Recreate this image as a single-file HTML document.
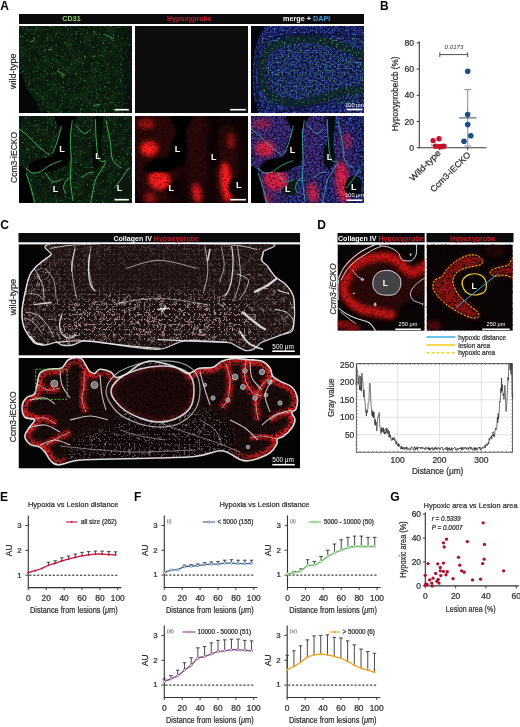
<!DOCTYPE html>
<html><head><meta charset="utf-8"><style>
html,body{margin:0;padding:0;background:#fff;width:520px;height:727px;overflow:hidden}
svg{display:block}
text{font-family:'Liberation Sans', Arial, sans-serif}
.c{stroke:#2a2a2a;stroke-width:0.24px}
</style></head><body>
<svg width="520" height="727" viewBox="0 0 520 727">
<defs><clipPath id="clA11t"><path d="M19.0,26.0 C37.8,18.8 113.2,11.5 132.0,26.0 C150.9,40.5 145.8,98.5 132.0,113.0 C118.3,127.4 65.4,114.8 49.4,113.0 C33.5,111.1 40.0,106.1 36.4,102.1 C32.8,98.1 30.2,93.8 27.7,89.0 C25.2,84.3 22.6,77.1 21.2,73.8 C19.7,70.6 19.4,77.4 19.0,69.5 C18.6,61.5 0.2,33.2 19.0,26.0Z"/></clipPath><filter id="spG1" x="0" y="0" width="1" height="1" color-interpolation-filters="sRGB"><feTurbulence type="fractalNoise" baseFrequency="0.45" numOctaves="2" seed="3"/><feColorMatrix type="matrix" values="0 0 0 0 0.2 0 0 0 0 0.52 0 0 0 0 0.25 4 0 0 0 -2.45"/><feGaussianBlur stdDeviation="0.6"/></filter><filter id="spG2" x="0" y="0" width="1" height="1" color-interpolation-filters="sRGB"><feTurbulence type="fractalNoise" baseFrequency="0.45" numOctaves="2" seed="5"/><feColorMatrix type="matrix" values="0 0 0 0 0.2 0 0 0 0 0.52 0 0 0 0 0.25 4 0 0 0 -2.45"/><feGaussianBlur stdDeviation="0.6"/></filter><filter id="spGd" x="0" y="0" width="1" height="1" color-interpolation-filters="sRGB"><feTurbulence type="fractalNoise" baseFrequency="0.5" numOctaves="2" seed="9"/><feColorMatrix type="matrix" values="0 0 0 0 0.2 0 0 0 0 0.5 0 0 0 0 0.3 5 0 0 0 -2.8"/><feGaussianBlur stdDeviation="0.6"/></filter><filter id="spBd" x="0" y="0" width="1" height="1" color-interpolation-filters="sRGB"><feTurbulence type="fractalNoise" baseFrequency="0.5" numOctaves="2" seed="4"/><feColorMatrix type="matrix" values="0 0 0 0 0.03 0 0 0 0 0.04 0 0 0 0 0.18 5 0 0 0 -2.0"/><feGaussianBlur stdDeviation="0.5"/></filter><filter id="spBl" x="0" y="0" width="1" height="1" color-interpolation-filters="sRGB"><feTurbulence type="fractalNoise" baseFrequency="0.5" numOctaves="2" seed="11"/><feColorMatrix type="matrix" values="0 0 0 0 0.35 0 0 0 0 0.45 0 0 0 0 0.9 5 0 0 0 -3.0"/><feGaussianBlur stdDeviation="0.5"/></filter><filter id="spRd" x="0" y="0" width="1" height="1" color-interpolation-filters="sRGB"><feTurbulence type="fractalNoise" baseFrequency="0.45" numOctaves="2" seed="6"/><feColorMatrix type="matrix" values="0 0 0 0 0.05 0 0 0 0 0.0 0 0 0 0 0.02 5 0 0 0 -2.4"/><feGaussianBlur stdDeviation="0.5"/></filter><filter id="mottle" x="0" y="0" width="1" height="1" color-interpolation-filters="sRGB"><feTurbulence type="fractalNoise" baseFrequency="0.12" numOctaves="2" seed="21"/><feColorMatrix type="matrix" values="0 0 0 0 0.1 0 0 0 0 0.3 0 0 0 0 0.14 3 0 0 0 -1.2"/></filter><filter id="bl2" x="-50%" y="-50%" width="200%" height="200%"><feGaussianBlur stdDeviation="2.2"/></filter><filter id="bl06" x="-50%" y="-50%" width="200%" height="200%"><feGaussianBlur stdDeviation="0.6"/></filter><filter id="bl4" x="-50%" y="-50%" width="200%" height="200%"><feGaussianBlur stdDeviation="4"/></filter><clipPath id="clC1"><path d="M63.1,242.6 C28.3,244.7 54.9,251.3 50.8,254.9 C46.7,258.6 41.9,261.3 38.5,264.5 C35.1,267.7 32.3,270.2 30.3,274.0 C28.2,277.9 27.6,281.8 26.2,287.7 C24.8,293.6 22.6,303.2 22.1,309.5 C21.6,315.9 22.1,321.1 23.5,325.9 C24.8,330.7 28.2,335.3 30.3,338.2 C32.3,341.2 33.2,342.5 35.7,343.7 C38.3,344.8 41.9,345.3 45.3,345.0 C48.7,344.8 53.5,342.3 56.2,342.3 C59.0,342.3 59.0,344.6 61.7,345.0 C64.4,345.5 69.0,345.7 72.6,345.0 C76.3,344.4 79.0,341.4 83.5,340.9 C88.1,340.5 92.6,341.4 99.9,342.3 C107.2,343.2 117.2,345.3 127.2,346.4 C137.2,347.5 150.3,350.0 160.0,349.1 C169.7,348.2 174.3,342.1 185.3,340.9 C196.4,339.8 218.1,341.6 226.3,342.3 C234.5,343.0 231.3,343.7 234.5,345.0 C237.6,346.4 242.2,349.8 245.4,350.5 C248.6,351.2 250.8,350.5 253.6,349.1 C256.3,347.8 258.6,344.1 261.8,342.3 C265.0,340.5 269.1,339.6 272.7,338.2 C276.3,336.8 280.4,335.3 283.6,334.1 C286.8,333.0 290.1,333.2 291.8,331.4 C293.5,329.6 293.5,326.8 294.0,323.2 C294.4,319.6 294.7,314.1 294.5,309.5 C294.4,305.0 294.5,300.0 293.2,295.9 C291.8,291.8 289.3,288.1 286.3,285.0 C283.4,281.8 278.6,280.0 275.4,276.8 C272.2,273.6 269.5,268.6 267.2,265.8 C265.0,263.1 262.5,262.7 261.8,260.4 C261.1,258.1 263.6,255.2 263.1,252.2 C262.7,249.2 292.4,244.2 259.0,242.6 C225.7,241.0 97.8,240.6 63.1,242.6Z"/></clipPath><mask id="mC1" maskUnits="userSpaceOnUse" x="18" y="244" width="282" height="112"><rect x="18" y="244" width="282" height="112" fill="#5a5a5a"/><path d="M55,302 Q100,292 150,296 Q200,292 250,300 L255,342 L55,342 Z" fill="#fff" filter="url(#bl6)"/><ellipse cx="40" cy="300" rx="20" ry="40" fill="#888" filter="url(#bl6)"/><ellipse cx="275" cy="305" rx="18" ry="30" fill="#666" filter="url(#bl6)"/><ellipse cx="150" cy="275" rx="60" ry="14" fill="#333" filter="url(#bl6)"/></mask><clipPath id="clC2"><path d="M59.0,464.9 C54.1,465.0 53.1,462.9 50.8,460.8 C48.5,458.8 47.1,454.9 45.3,452.6 C43.5,450.3 42.3,448.5 39.8,447.1 C37.3,445.7 32.8,446.2 30.3,444.4 C27.8,442.6 25.0,438.9 24.8,436.2 C24.6,433.5 27.3,430.7 28.9,428.0 C30.5,425.3 35.1,421.6 34.4,419.8 C33.7,418.0 26.9,419.4 24.8,417.1 C22.8,414.8 21.9,409.4 22.1,406.2 C22.3,403.0 24.1,400.1 26.2,398.0 C28.2,395.9 32.6,396.2 34.4,393.9 C36.2,391.6 36.2,387.7 37.1,384.3 C38.0,380.9 38.0,375.9 39.8,373.4 C41.6,370.9 44.4,370.2 48.0,369.3 C51.6,368.4 58.3,369.5 61.7,367.9 C65.1,366.3 65.3,361.3 68.5,359.7 C71.7,358.1 77.4,356.6 80.8,358.4 C84.2,360.2 86.7,368.2 89.0,370.7 C91.3,373.2 92.7,373.6 94.5,373.4 C96.3,373.2 97.2,369.5 99.9,369.3 C102.6,369.1 108.1,370.6 110.8,372.0 C113.5,373.4 113.6,377.3 116.3,377.5 C119.0,377.7 123.6,375.4 127.2,373.4 C130.8,371.3 134.5,367.2 138.2,365.2 C141.8,363.1 145.5,361.6 149.1,361.1 C152.7,360.7 155.8,361.6 160.0,362.5 C164.2,363.4 169.7,364.7 174.4,366.5 C179.1,368.3 183.9,373.1 188.0,373.4 C192.1,373.7 194.9,369.3 199.0,368.3 C203.1,367.3 208.7,368.5 212.6,367.3 C216.5,366.1 218.5,362.6 222.2,361.1 C225.8,359.6 230.2,358.6 234.5,358.4 C238.8,358.2 243.5,359.2 248.1,359.7 C252.7,360.1 258.2,359.7 261.8,361.1 C265.4,362.5 268.2,365.4 270.0,367.9 C271.8,370.4 270.9,373.8 272.7,376.1 C274.5,378.4 277.7,379.8 280.9,381.6 C284.1,383.4 289.1,384.3 291.8,387.0 C294.5,389.7 296.6,394.3 297.3,398.0 C298.0,401.7 296.9,406.6 296.0,409.0 C295.1,411.4 292.0,410.8 291.8,412.6 C291.6,414.4 295.0,417.2 295.0,419.8 C295.0,422.4 293.7,425.3 291.8,428.0 C289.9,430.7 286.0,434.4 283.6,436.2 C281.2,438.0 278.5,437.5 277.4,438.9 C276.2,440.3 277.9,442.1 276.7,444.4 C275.5,446.7 273.1,450.3 270.2,452.6 C267.3,454.9 263.0,456.6 259.3,458.0 C255.6,459.4 251.3,460.6 248.1,460.8 C244.9,461.0 244.3,461.1 239.9,459.4 C235.5,457.7 229.1,451.3 221.5,450.8 C213.9,450.3 208.7,455.2 194.6,456.5 C180.5,457.8 156.1,457.9 137.0,458.5 C117.9,459.1 93.0,458.9 80.0,460.0 C67.0,461.1 63.9,464.8 59.0,464.9Z"/></clipPath><clipPath id="clOval"><path d="M111.0,392.0 C110.7,387.0 115.2,381.8 120.0,378.0 C124.8,374.2 133.3,371.0 140.0,369.0 C146.7,367.0 153.7,366.2 160.0,366.0 C166.3,365.8 173.0,366.5 178.0,368.0 C183.0,369.5 187.3,371.3 190.0,375.0 C192.7,378.7 194.0,384.5 194.0,390.0 C194.0,395.5 193.2,403.2 190.0,408.0 C186.8,412.8 180.3,416.7 175.0,419.0 C169.7,421.3 163.8,422.2 158.0,422.0 C152.2,421.8 146.0,420.3 140.0,418.0 C134.0,415.7 126.8,412.3 122.0,408.0 C117.2,403.7 111.3,397.0 111.0,392.0Z"/></clipPath><mask id="mFol" maskUnits="userSpaceOnUse" x="18" y="355" width="284" height="116"><rect x="18" y="355" width="284" height="116" fill="#000"/><path d="M22.0,405.0 C23.3,398.7 27.0,397.5 30.0,392.0 C33.0,386.5 34.7,376.3 40.0,372.0 C45.3,367.7 55.3,368.3 62.0,366.0 C68.7,363.7 75.0,357.0 80.0,358.0 C85.0,359.0 86.7,369.7 92.0,372.0 C97.3,374.3 108.7,368.7 112.0,372.0 C115.3,375.3 111.0,384.0 112.0,392.0 C113.0,400.0 121.7,413.3 118.0,420.0 C114.3,426.7 98.0,427.8 90.0,432.0 C82.0,436.2 75.0,439.5 70.0,445.0 C65.0,450.5 65.0,463.8 60.0,465.0 C55.0,466.2 46.3,457.8 40.0,452.0 C33.7,446.2 25.0,437.8 22.0,430.0 C19.0,422.2 20.7,411.3 22.0,405.0Z" fill="#fff" filter="url(#bl3)"/><path d="M188.0,371.0 C193.0,363.5 209.7,361.8 222.0,360.0 C234.3,358.2 250.7,355.7 262.0,360.0 C273.3,364.3 284.0,379.3 290.0,386.0 C296.0,392.7 297.3,392.7 298.0,400.0 C298.7,407.3 298.3,421.7 294.0,430.0 C289.7,438.3 278.5,445.0 272.0,450.0 C265.5,455.0 261.0,459.7 255.0,460.0 C249.0,460.3 239.8,457.0 236.0,452.0 C232.2,447.0 236.0,436.7 232.0,430.0 C228.0,423.3 218.7,416.2 212.0,412.0 C205.3,407.8 196.0,411.8 192.0,405.0 C188.0,398.2 183.0,378.5 188.0,371.0Z" fill="#fff" filter="url(#bl3)"/></mask><filter id="bl3" x="-50%" y="-50%" width="200%" height="200%"><feGaussianBlur stdDeviation="3"/></filter><filter id="bl1" x="-50%" y="-50%" width="200%" height="200%"><feGaussianBlur stdDeviation="1"/></filter><filter id="spW" x="0" y="0" width="1" height="1" color-interpolation-filters="sRGB"><feTurbulence type="fractalNoise" baseFrequency="0.6" numOctaves="2" seed="13"/><feColorMatrix type="matrix" values="0 0 0 0 0.95 0 0 0 0 0.85 0 0 0 0 0.85 6 0 0 0 -4.3"/><feGaussianBlur stdDeviation="0.3"/></filter><filter id="netW" x="0" y="0" width="1" height="1" color-interpolation-filters="sRGB"><feTurbulence type="fractalNoise" baseFrequency="0.2" numOctaves="2" seed="5"/><feColorMatrix type="matrix" values="0 0 0 0 0.9 0 0 0 0 0.78 0 0 0 0 0.78 1 0 0 0 0"/><feComponentTransfer><feFuncA type="table" tableValues="0 0 0 0 0 0 0 0 0 0 0 0.75 0 0 0 0 0 0 0 0 0 0 0"/></feComponentTransfer><feGaussianBlur stdDeviation="0.2"/></filter><filter id="netW2" x="0" y="0" width="1" height="1" color-interpolation-filters="sRGB"><feTurbulence type="fractalNoise" baseFrequency="0.2" numOctaves="2" seed="8"/><feColorMatrix type="matrix" values="0 0 0 0 0.75 0 0 0 0 0.7 0 0 0 0 0.7 1 0 0 0 0"/><feComponentTransfer><feFuncA type="table" tableValues="0 0 0 0 0 0 0 0 0 0 0 0 0.55 0 0 0 0 0 0 0 0 0 0 0 0"/></feComponentTransfer><feGaussianBlur stdDeviation="0.2"/></filter><filter id="bl6" x="-50%" y="-50%" width="200%" height="200%"><feGaussianBlur stdDeviation="6"/></filter><filter id="bl15" x="-50%" y="-50%" width="200%" height="200%"><feGaussianBlur stdDeviation="1.5"/></filter><filter id="bl2" x="-50%" y="-50%" width="200%" height="200%"><feGaussianBlur stdDeviation="2.2"/></filter></defs>
<rect width="520" height="727" fill="#fff"/>
<text x="0.3" y="10.3" font-size="12" font-weight="bold" fill="#000">A</text>
<text x="379.9" y="10.4" font-size="12" font-weight="bold" fill="#000">B</text>
<text x="0.2" y="228.6" font-size="12" font-weight="bold" fill="#000">C</text>
<text x="317.3" y="228.6" font-size="12" font-weight="bold" fill="#000">D</text>
<text x="0.1" y="500.7" font-size="12" font-weight="bold" fill="#000">E</text>
<text x="134.1" y="500.7" font-size="12" font-weight="bold" fill="#000">F</text>
<text x="390.2" y="500.7" font-size="12" font-weight="bold" fill="#000">G</text>
<rect x="19" y="14" width="345" height="10" fill="#0b0b0d"/>
<text x="71.45" y="21.1" font-size="6.8" fill="#8ccf6a" text-anchor="middle" textLength="18.4" lengthAdjust="spacingAndGlyphs" font-weight="bold">CD31</text>
<text x="189.4" y="21.1" font-size="6.8" fill="#c41a2c" text-anchor="middle" textLength="44.6" lengthAdjust="spacingAndGlyphs" font-weight="bold">Hypoxyprobe</text>
<text x="306.7" y="21.1" font-size="6.8" fill="#fff" text-anchor="middle" textLength="47.2" lengthAdjust="spacingAndGlyphs" font-weight="bold">merge + <tspan fill="#3c9fd8">DAPI</tspan></text>
<text transform="translate(16.1,71.3) rotate(-90)" font-size="8.6" fill="#333" text-anchor="middle" textLength="35.6" lengthAdjust="spacingAndGlyphs" class="c">wild-type</text>
<text transform="translate(16.6,157.4) rotate(-90)" font-size="8.6" fill="#333" text-anchor="middle" textLength="51.2" lengthAdjust="spacingAndGlyphs" class="c">Ccm3-iECKO</text>
<rect x="18.5" y="233" width="281.5" height="9.3" fill="#0b0b0d"/>
<text x="156.2" y="240.6" font-size="7.3" fill="#fff" text-anchor="middle" textLength="85.6" lengthAdjust="spacingAndGlyphs" font-weight="bold">Collagen IV <tspan fill="#c41a2c">Hypoxyprobe</tspan></text>
<text transform="translate(15.9,297) rotate(-90)" font-size="8.6" fill="#333" text-anchor="middle" textLength="36.4" lengthAdjust="spacingAndGlyphs" class="c">wild-type</text>
<text transform="translate(15.9,416.8) rotate(-90)" font-size="8.6" fill="#333" text-anchor="middle" textLength="50.9" lengthAdjust="spacingAndGlyphs" class="c">Ccm3-iECKO</text>
<rect x="337.5" y="233" width="87.2" height="9.3" fill="#0b0b0d"/>
<rect x="426.5" y="233" width="87" height="9.3" fill="#0b0b0d"/>
<text x="380.8" y="240.6" font-size="7.3" fill="#fff" text-anchor="middle" textLength="85.6" lengthAdjust="spacingAndGlyphs" font-weight="bold">Collagen IV <tspan fill="#c41a2c">Hypoxyprobe</tspan></text>
<text x="472.7" y="240.6" font-size="7.3" fill="#c41a2c" text-anchor="middle" textLength="45.4" lengthAdjust="spacingAndGlyphs" font-weight="bold">Hypoxyprobe</text>
<text transform="translate(336.2,289) rotate(-90)" font-size="8.8" fill="#333" text-anchor="middle" textLength="51.4" lengthAdjust="spacingAndGlyphs" font-style="italic" class="c">Ccm3-iECKO</text>
<line x1="426.5" y1="337" x2="455.4" y2="337" stroke="#3fb6e8" stroke-width="1.6"/>
<line x1="426.5" y1="345" x2="455.4" y2="345" stroke="#f2d024" stroke-width="1.6"/>
<line x1="426.5" y1="352.7" x2="455.4" y2="352.7" stroke="#f2d024" stroke-width="1.4" stroke-dasharray="3,2"/>
<text x="458.2" y="339.6" font-size="7" fill="#333" textLength="47.8" lengthAdjust="spacingAndGlyphs" class="c">hypoxic distance</text>
<text x="458.2" y="347.5" font-size="7" fill="#333" textLength="32" lengthAdjust="spacingAndGlyphs" class="c">lesion area</text>
<text x="458.2" y="355.2" font-size="7" fill="#333" textLength="37" lengthAdjust="spacingAndGlyphs" class="c">hypoxic area</text>
<clipPath id="cA11"><rect x="19" y="26" width="113" height="87"/></clipPath><g clip-path="url(#cA11)"><rect x="19" y="26" width="113" height="87" fill="#050705"/><path d="M19.0,26.0 C37.8,18.8 113.2,11.5 132.0,26.0 C150.9,40.5 145.8,98.5 132.0,113.0 C118.3,127.4 65.4,114.8 49.4,113.0 C33.5,111.1 40.0,106.1 36.4,102.1 C32.8,98.1 30.2,93.8 27.7,89.0 C25.2,84.3 22.6,77.1 21.2,73.8 C19.7,70.6 19.4,77.4 19.0,69.5 C18.6,61.5 0.2,33.2 19.0,26.0Z" fill="#0a190c"/><rect x="19" y="26" width="113" height="87" filter="url(#mottle)" clip-path="url(#clA11t)" opacity="0.3"/><rect x="19" y="26" width="113" height="87" filter="url(#spG1)" clip-path="url(#clA11t)"/><rect x="123" y="26" width="9" height="87" fill="#050805" opacity="0.4"/><line x1="57" y1="71" x2="65" y2="75" stroke="#3fb858" stroke-width="1" opacity="0.8"/><line x1="104" y1="34" x2="114" y2="39" stroke="#3fb858" stroke-width="1" opacity="0.8"/><line x1="62" y1="74" x2="63" y2="78" stroke="#3fb858" stroke-width="1" opacity="0.8"/><line x1="93" y1="106" x2="100" y2="104" stroke="#3fb858" stroke-width="1" opacity="0.8"/><line x1="30" y1="42" x2="34" y2="40" stroke="#3fb858" stroke-width="1" opacity="0.8"/><line x1="48" y1="50" x2="52" y2="49" stroke="#3fb858" stroke-width="1" opacity="0.8"/><rect x="114.6" y="108.9" width="14.200000000000017" height="1.6" fill="#fff"/></g>
<clipPath id="cA12"><rect x="135" y="26" width="113" height="87"/></clipPath><g clip-path="url(#cA12)"><rect x="135" y="26" width="113" height="87" fill="#0e0d0e"/><rect x="230.2" y="108.9" width="15.700000000000017" height="1.6" fill="#fff"/></g>
<clipPath id="cA13"><rect x="251" y="26" width="113" height="87"/></clipPath><g clip-path="url(#cA13)"><rect x="251" y="26" width="113" height="87" fill="#283688"/><rect x="251" y="26" width="113" height="87" filter="url(#spBd)"/><rect x="251" y="26" width="113" height="87" filter="url(#spBl)"/><path d="M368.4,58.6 C364.4,56.8 353.2,50.9 344.5,47.7 C335.8,44.6 325.6,40.6 316.2,39.5 C306.8,38.3 295.7,39.1 288.0,40.8 C280.2,42.4 273.8,45.7 269.5,49.5 C265.2,53.2 263.3,57.5 262.3,63.4 C261.3,69.3 261.2,78.8 263.4,84.7 C265.6,90.6 269.4,95.7 275.3,98.8 C281.3,101.9 290.2,103.5 298.8,103.2 C307.4,102.8 319.1,98.7 327.1,96.7 C335.1,94.6 339.8,92.1 346.7,90.8 C353.5,89.5 364.8,89.3 368.4,89.0" stroke="#0c2226" stroke-width="8" fill="none" opacity="0.85" filter="url(#bl06)"/><path d="M368.4,58.6 C364.4,56.8 353.2,50.9 344.5,47.7 C335.8,44.6 325.6,40.6 316.2,39.5 C306.8,38.3 295.7,39.1 288.0,40.8 C280.2,42.4 273.8,45.7 269.5,49.5 C265.2,53.2 263.3,57.5 262.3,63.4 C261.3,69.3 261.2,78.8 263.4,84.7 C265.6,90.6 269.4,95.7 275.3,98.8 C281.3,101.9 290.2,103.5 298.8,103.2 C307.4,102.8 319.1,98.7 327.1,96.7 C335.1,94.6 339.8,92.1 346.7,90.8 C353.5,89.5 364.8,89.3 368.4,89.0" stroke="#000" stroke-width="7" fill="none" filter="url(#spGd)"/><path d="M368.4,38.0 C363.3,37.5 348.5,35.7 338.0,35.1 C327.4,34.5 315.5,34.0 305.3,34.3 C295.2,34.6 284.5,34.6 277.1,36.9 C269.7,39.1 264.4,42.3 260.8,47.7 C257.2,53.2 256.1,61.5 255.3,69.5 C254.6,77.4 255.0,88.3 256.4,95.6 C257.9,102.8 262.8,110.1 264.0,113.0" stroke="#0a0f2a" stroke-width="1.6" fill="none" opacity="0.7"/><path d="M277.1,113.0 C281.8,112.1 295.9,109.4 305.3,107.5 C314.8,105.6 323.1,103.3 333.6,101.7 C344.1,100.0 362.6,98.4 368.4,97.7" stroke="#0a0f2a" stroke-width="1.6" fill="none" opacity="0.7"/><path d="M251.0,26.0 C253.2,11.5 262.8,23.8 264.0,26.0 C265.3,28.2 260.3,34.3 258.6,39.0 C256.9,43.8 255.0,48.5 254.0,54.3 C253.1,60.1 252.8,66.9 252.7,73.8 C252.7,80.7 252.6,89.0 253.6,95.6 C254.6,102.1 259.0,110.1 258.6,113.0 C258.2,115.9 252.3,127.4 251.0,113.0 C249.7,98.5 248.8,40.5 251.0,26.0Z" fill="#04050a"/><rect x="346.5" y="108.7" width="15.899999999999977" height="1.6" fill="#fff"/><text x="354.6" y="106.6" font-size="5.6" fill="#fff" text-anchor="middle">100 μm</text></g>
<clipPath id="cA21"><rect x="19" y="116" width="113" height="87"/></clipPath><g clip-path="url(#cA21)"><rect x="19" y="116" width="113" height="87" fill="#0a170c"/><rect x="19" y="116" width="113" height="87" filter="url(#mottle)" opacity="0.3"/><rect x="19" y="116" width="113" height="87" filter="url(#spG2)"/><path d="M54.9,116.0 C58.0,114.7 72.9,114.7 76.0,116.0 C79.0,117.3 74.4,121.1 73.3,123.6 C72.3,126.1 69.9,128.5 69.4,131.2 C68.9,133.9 70.1,136.7 70.3,139.9 C70.5,143.2 71.0,147.0 70.7,150.8 C70.4,154.6 69.9,160.0 68.6,162.7 C67.2,165.5 64.6,165.8 62.5,167.1 C60.4,168.4 58.1,169.5 56.0,170.3 C53.8,171.2 52.3,171.8 49.4,172.1 C46.5,172.4 41.6,172.2 38.6,172.1 C35.5,172.0 32.8,172.1 31.0,171.4 C29.1,170.8 27.5,169.6 27.7,168.2 C27.9,166.7 29.9,164.4 32.0,162.7 C34.2,161.1 37.8,159.4 40.7,158.4 C43.6,157.4 47.3,158.0 49.4,156.9 C51.5,155.8 52.3,154.3 53.3,151.9 C54.4,149.4 54.4,145.2 55.5,142.1 C56.7,139.0 60.1,136.5 60.3,133.4 C60.6,130.3 57.9,126.5 57.0,123.6 C56.1,120.7 51.7,117.3 54.9,116.0Z" fill="#030403" filter="url(#bl06)"/><path d="M94.7,116.0 C95.9,113.8 101.7,113.5 102.9,116.0 C104.1,118.5 102.3,126.1 102.0,131.2 C101.8,136.3 101.0,141.7 101.2,146.4 C101.3,151.1 103.1,156.0 102.9,159.5 C102.7,162.9 101.5,166.1 99.9,167.1 C98.2,168.1 94.3,168.3 92.9,165.6 C91.6,162.8 91.5,154.7 91.8,150.8 C92.2,146.9 94.5,145.7 95.1,142.1 C95.7,138.5 95.6,133.4 95.5,129.0 C95.4,124.7 93.4,118.2 94.7,116.0Z" fill="#060c06" filter="url(#bl06)"/><path d="M19.0,168.2 C20.1,162.7 23.9,168.2 25.5,170.3 C27.1,172.5 27.7,177.2 28.6,181.2 C29.5,185.2 30.3,190.6 31.0,194.3 C31.6,197.9 34.5,201.5 32.5,203.0 C30.5,204.4 21.2,208.8 19.0,203.0 C16.8,197.2 17.9,173.6 19.0,168.2Z" fill="#040504" filter="url(#bl06)"/><path d="M114.2,181.2 C115.6,178.7 118.7,176.1 121.2,175.8 C123.6,175.5 127.6,176.6 128.8,179.5 C130.0,182.4 129.9,190.4 128.3,193.2 C126.8,195.9 122.0,196.4 119.4,196.0 C116.9,195.6 113.8,193.5 112.9,191.0 C112.0,188.5 112.8,183.8 114.2,181.2Z" fill="#0a140b" filter="url(#bl06)"/><path d="M56.0,185.1 C57.3,183.4 56.4,180.4 57.7,179.5 C59.0,178.5 62.2,178.4 63.6,179.5 C64.9,180.6 65.9,183.5 65.7,186.0 C65.6,188.5 64.5,192.8 62.5,194.3 C60.5,195.7 56.0,195.4 53.8,194.7 C51.6,194.0 49.1,191.5 49.4,189.9 C49.8,188.3 54.6,186.9 56.0,185.1Z" fill="#0b150c" filter="url(#bl06)"/><path d="M61.4,125.8 C60.8,128.1 59.0,135.7 57.7,139.9 C56.4,144.1 54.8,148.4 53.8,150.8 C52.8,153.1 52.0,153.5 51.6,154.0" stroke="#46c65a" stroke-width="1" fill="none" opacity="0.85"/><path d="M25.5,167.7 C26.7,168.6 29.9,172.3 32.5,173.0 C35.0,173.6 37.7,172.8 40.7,171.4 C43.7,170.1 47.1,166.7 50.5,164.9 C54.0,163.1 59.6,161.3 61.4,160.6" stroke="#46c65a" stroke-width="1" fill="none" opacity="0.85"/><path d="M72.3,120.3 C71.9,123.6 70.5,133.4 70.3,139.9 C70.1,146.4 71.2,153.0 71.2,159.5 C71.2,166.0 70.0,172.2 70.3,179.0 C70.6,185.9 72.5,197.2 72.9,200.8" stroke="#46c65a" stroke-width="1" fill="none" opacity="0.85"/><path d="M95.5,119.3 C95.6,122.7 95.6,133.2 96.2,139.9 C96.8,146.6 97.4,155.8 99.0,159.5 C100.6,163.2 105.4,159.9 105.5,162.1 C105.7,164.3 101.6,169.3 99.9,172.5 C98.1,175.7 96.6,176.1 95.1,181.2 C93.6,186.3 91.5,199.3 90.7,203.0" stroke="#46c65a" stroke-width="1" fill="none" opacity="0.85"/><path d="M128.8,167.7 C127.5,169.6 123.6,175.6 121.2,179.0 C118.7,182.4 115.4,186.7 114.2,188.2" stroke="#46c65a" stroke-width="1" fill="none" opacity="0.85"/><path d="M26.0,173.0 C26.9,175.8 30.2,184.9 31.6,189.9 C33.1,194.9 34.1,200.8 34.7,203.0" stroke="#46c65a" stroke-width="1" fill="none" opacity="0.85"/><path d="M82.0,178.0 C83.1,177.1 86.6,173.9 88.6,173.0 C90.6,172.0 93.1,172.2 94.0,172.1" stroke="#46c65a" stroke-width="1" fill="none" opacity="0.85"/><path d="M71.2,176.9 C70.3,177.6 67.0,179.4 65.7,181.2 C64.5,183.0 63.6,185.6 63.6,187.7 C63.6,189.9 65.4,193.2 65.7,194.3" stroke="#46c65a" stroke-width="1" fill="none" opacity="0.85"/><path d="M45.1,172.5 C46.2,174.0 49.6,179.8 51.6,181.2 C53.6,182.7 55.2,181.6 57.0,181.2 C58.9,180.9 61.6,179.4 62.5,179.0" stroke="#46c65a" stroke-width="1" fill="none" opacity="0.85"/><path d="M106.0,120.3 C106.7,124.0 109.2,135.6 110.3,142.1 C111.4,148.6 110.7,155.1 112.5,159.5 C114.3,163.8 119.7,166.7 121.2,168.2" stroke="#46c65a" stroke-width="1" fill="none" opacity="0.85"/><path d="M19.0,129.0 C20.4,130.1 24.4,132.7 27.7,135.6 C31.0,138.5 34.9,143.2 38.6,146.4 C42.2,149.7 47.6,153.7 49.4,155.1" stroke="#46c65a" stroke-width="1" fill="none" opacity="0.85"/><path d="M75.5,124.7 C77.0,126.1 81.7,132.7 84.2,133.4 C86.8,134.1 89.7,129.8 90.7,129.0" stroke="#46c65a" stroke-width="1" fill="none" opacity="0.85"/><text x="61.9" y="152" font-size="9" font-weight="bold" fill="#fff" text-anchor="middle">L</text><text x="97.9" y="159.2" font-size="9" font-weight="bold" fill="#fff" text-anchor="middle">L</text><text x="55.4" y="191.6" font-size="9" font-weight="bold" fill="#fff" text-anchor="middle">L</text><text x="119.6" y="190.9" font-size="9" font-weight="bold" fill="#fff" text-anchor="middle">L</text><rect x="114.6" y="198.89999999999998" width="14.200000000000017" height="1.6" fill="#fff"/></g>
<clipPath id="cA22"><rect x="135" y="116" width="113" height="87"/></clipPath><g clip-path="url(#cA22)"><rect x="135" y="116" width="113" height="87" fill="#0c0506"/><path d="M135.0,116.0 C142.2,106.9 170.9,106.9 178.5,116.0 C186.1,125.1 182.5,155.9 180.7,170.3 C178.8,184.8 173.8,197.5 167.6,203.0 C161.4,208.4 149.1,208.4 143.7,203.0 C138.3,197.5 136.4,184.8 135.0,170.3 C133.6,155.9 127.8,125.1 135.0,116.0Z" fill="#500a0c" opacity="0.45" filter="url(#bl4)"/><path d="M186.1,116.0 C189.0,101.5 203.7,101.5 206.7,116.0 C209.8,130.5 207.5,188.5 204.6,203.0 C201.7,217.4 192.4,217.4 189.3,203.0 C186.3,188.5 183.2,130.5 186.1,116.0Z" fill="#500a0c" opacity="0.45" filter="url(#bl4)"/><path d="M217.6,133.4 C220.9,121.8 234.3,121.8 237.2,133.4 C240.1,145.0 238.3,191.4 235.0,203.0 C231.7,214.6 220.5,214.6 217.6,203.0 C214.7,191.4 214.3,145.0 217.6,133.4Z" fill="#500a0c" opacity="0.45" filter="url(#bl4)"/><ellipse cx="149.1" cy="148.6" rx="9" ry="7.5" fill="#ff1c1c" opacity="1.0" filter="url(#bl2)" transform="rotate(0,149.1,148.6)"/><ellipse cx="159.5" cy="180" rx="11" ry="10" fill="#ff1c1c" opacity="1.0" filter="url(#bl2)" transform="rotate(20,159.5,180)"/><ellipse cx="226.3" cy="182" rx="6" ry="20" fill="#ff1c1c" opacity="1.0" filter="url(#bl2)" transform="rotate(-6,226.3,182)"/><ellipse cx="197" cy="193" rx="4.5" ry="10" fill="#ff1c1c" opacity="0.9" filter="url(#bl2)" transform="rotate(-10,197,193)"/><ellipse cx="146" cy="124" rx="9" ry="5" fill="#ff1c1c" opacity="0.55" filter="url(#bl2)" transform="rotate(0,146,124)"/><ellipse cx="231" cy="141" rx="4" ry="8" fill="#ff1c1c" opacity="0.5" filter="url(#bl2)" transform="rotate(0,231,141)"/><ellipse cx="150" cy="198" rx="6" ry="6" fill="#ff1c1c" opacity="0.5" filter="url(#bl2)" transform="rotate(0,150,198)"/><rect x="135" y="116" width="113" height="87" filter="url(#spRd)" opacity="0.4"/><path d="M170.9,116.0 C174.0,114.7 188.9,114.7 192.0,116.0 C195.0,117.3 190.4,121.1 189.3,123.6 C188.3,126.1 185.9,128.5 185.4,131.2 C184.9,133.9 186.1,136.7 186.3,139.9 C186.5,143.2 187.0,147.0 186.7,150.8 C186.4,154.6 185.9,160.0 184.6,162.7 C183.2,165.5 180.6,165.8 178.5,167.1 C176.4,168.4 174.1,169.5 172.0,170.3 C169.8,171.2 168.3,171.8 165.4,172.1 C162.5,172.4 157.6,172.2 154.6,172.1 C151.5,172.0 148.8,172.1 147.0,171.4 C145.1,170.8 143.5,169.6 143.7,168.2 C143.9,166.7 145.9,164.4 148.0,162.7 C150.2,161.1 153.8,159.4 156.7,158.4 C159.6,157.4 163.3,158.0 165.4,156.9 C167.5,155.8 168.3,154.3 169.3,151.9 C170.4,149.4 170.4,145.2 171.5,142.1 C172.7,139.0 176.1,136.5 176.3,133.4 C176.6,130.3 173.9,126.5 173.0,123.6 C172.1,120.7 167.7,117.3 170.9,116.0Z" fill="#050303" filter="url(#bl1)"/><path d="M210.7,116.0 C211.9,113.8 217.7,113.5 218.9,116.0 C220.1,118.5 218.3,126.1 218.0,131.2 C217.8,136.3 217.0,141.7 217.2,146.4 C217.3,151.1 219.1,156.0 218.9,159.5 C218.7,162.9 217.5,166.1 215.9,167.1 C214.2,168.1 210.3,168.3 208.9,165.6 C207.6,162.8 207.5,154.7 207.8,150.8 C208.2,146.9 210.5,145.7 211.1,142.1 C211.7,138.5 211.6,133.4 211.5,129.0 C211.4,124.7 209.4,118.2 210.7,116.0Z" fill="#0a0505" filter="url(#bl1)"/><path d="M230.2,181.2 C231.6,178.7 234.7,176.1 237.2,175.8 C239.6,175.5 243.6,176.6 244.8,179.5 C246.0,182.4 245.9,190.4 244.3,193.2 C242.8,195.9 238.0,196.4 235.4,196.0 C232.9,195.6 229.8,193.5 228.9,191.0 C228.0,188.5 228.8,183.8 230.2,181.2Z" fill="#0a0505" filter="url(#bl1)"/><path d="M172.0,185.1 C173.3,183.4 172.4,180.4 173.7,179.5 C175.0,178.5 178.2,178.4 179.6,179.5 C180.9,180.6 181.9,183.5 181.7,186.0 C181.6,188.5 180.5,192.8 178.5,194.3 C176.5,195.7 172.0,195.4 169.8,194.7 C167.6,194.0 165.1,191.5 165.4,189.9 C165.8,188.3 170.6,186.9 172.0,185.1Z" fill="#0c0606" filter="url(#bl1)"/><text x="177.6" y="152" font-size="9" font-weight="bold" fill="#fff" text-anchor="middle">L</text><text x="213.7" y="160.4" font-size="9" font-weight="bold" fill="#fff" text-anchor="middle">L</text><text x="171.3" y="190.9" font-size="9" font-weight="bold" fill="#fff" text-anchor="middle">L</text><text x="238.7" y="188" font-size="9" font-weight="bold" fill="#fff" text-anchor="middle">L</text><rect x="230.2" y="198.89999999999998" width="15.700000000000017" height="1.6" fill="#fff"/></g>
<clipPath id="cA23"><rect x="251" y="116" width="113" height="87"/></clipPath><g clip-path="url(#cA23)"><rect x="251" y="116" width="113" height="87" fill="#3040a0"/><rect x="251" y="116" width="113" height="87" filter="url(#spBd)"/><rect x="251" y="116" width="113" height="87" filter="url(#spBl)"/><path d="M251.0,116.0 C258.2,106.9 286.9,106.9 294.5,116.0 C302.1,125.1 298.5,155.9 296.7,170.3 C294.8,184.8 289.8,197.5 283.6,203.0 C277.4,208.4 265.1,208.4 259.7,203.0 C254.3,197.5 252.4,184.8 251.0,170.3 C249.6,155.9 243.8,125.1 251.0,116.0Z" fill="#7a2070" opacity="0.25" filter="url(#bl4)"/><path d="M302.1,116.0 C305.0,101.5 319.7,101.5 322.7,116.0 C325.8,130.5 323.5,188.5 320.6,203.0 C317.7,217.4 308.4,217.4 305.3,203.0 C302.3,188.5 299.2,130.5 302.1,116.0Z" fill="#7a2070" opacity="0.25" filter="url(#bl4)"/><path d="M333.6,133.4 C336.9,121.8 350.3,121.8 353.2,133.4 C356.1,145.0 354.3,191.4 351.0,203.0 C347.7,214.6 336.5,214.6 333.6,203.0 C330.7,191.4 330.3,145.0 333.6,133.4Z" fill="#7a2070" opacity="0.25" filter="url(#bl4)"/><ellipse cx="265.1" cy="148.6" rx="9.9" ry="7.875" fill="#e8204a" opacity="0.95" filter="url(#bl2)" transform="rotate(0,265.1,148.6)"/><ellipse cx="275.5" cy="180" rx="12.100000000000001" ry="10.5" fill="#e8204a" opacity="0.95" filter="url(#bl2)" transform="rotate(20,275.5,180)"/><ellipse cx="342.3" cy="182" rx="6.6000000000000005" ry="21.0" fill="#e8204a" opacity="0.95" filter="url(#bl2)" transform="rotate(-6,342.3,182)"/><ellipse cx="313" cy="193" rx="4.95" ry="10.5" fill="#e8204a" opacity="0.855" filter="url(#bl2)" transform="rotate(-10,313,193)"/><ellipse cx="262" cy="124" rx="9.9" ry="5.25" fill="#e8204a" opacity="0.5225" filter="url(#bl2)" transform="rotate(0,262,124)"/><ellipse cx="347" cy="141" rx="4.4" ry="8.4" fill="#e8204a" opacity="0.475" filter="url(#bl2)" transform="rotate(0,347,141)"/><ellipse cx="266" cy="198" rx="6.6000000000000005" ry="6.300000000000001" fill="#e8204a" opacity="0.475" filter="url(#bl2)" transform="rotate(0,266,198)"/><rect x="251" y="116" width="113" height="87" filter="url(#spRd)" opacity="0.5"/><path d="M286.9,116.0 C290.0,114.7 304.9,114.7 308.0,116.0 C311.0,117.3 306.4,121.1 305.3,123.6 C304.3,126.1 301.9,128.5 301.4,131.2 C300.9,133.9 302.1,136.7 302.3,139.9 C302.5,143.2 303.0,147.0 302.7,150.8 C302.4,154.6 301.9,160.0 300.6,162.7 C299.2,165.5 296.6,165.8 294.5,167.1 C292.4,168.4 290.1,169.5 288.0,170.3 C285.8,171.2 284.3,171.8 281.4,172.1 C278.5,172.4 273.6,172.2 270.6,172.1 C267.5,172.0 264.8,172.1 263.0,171.4 C261.1,170.8 259.5,169.6 259.7,168.2 C259.9,166.7 261.9,164.4 264.0,162.7 C266.2,161.1 269.8,159.4 272.7,158.4 C275.6,157.4 279.3,158.0 281.4,156.9 C283.5,155.8 284.3,154.3 285.3,151.9 C286.4,149.4 286.4,145.2 287.5,142.1 C288.7,139.0 292.1,136.5 292.3,133.4 C292.6,130.3 289.9,126.5 289.0,123.6 C288.1,120.7 283.7,117.3 286.9,116.0Z" fill="#020305" filter="url(#bl06)"/><path d="M326.7,116.0 C327.9,113.8 333.7,113.5 334.9,116.0 C336.1,118.5 334.3,126.1 334.0,131.2 C333.8,136.3 333.0,141.7 333.2,146.4 C333.3,151.1 335.1,156.0 334.9,159.5 C334.7,162.9 333.5,166.1 331.9,167.1 C330.2,168.1 326.3,168.3 324.9,165.6 C323.6,162.8 323.5,154.7 323.8,150.8 C324.2,146.9 326.5,145.7 327.1,142.1 C327.7,138.5 327.6,133.4 327.5,129.0 C327.4,124.7 325.4,118.2 326.7,116.0Z" fill="#05080c" filter="url(#bl06)"/><path d="M251.0,168.2 C252.1,162.7 255.9,168.2 257.5,170.3 C259.1,172.5 259.7,177.2 260.6,181.2 C261.5,185.2 262.3,190.6 263.0,194.3 C263.6,197.9 266.5,201.5 264.5,203.0 C262.5,204.4 253.2,208.8 251.0,203.0 C248.8,197.2 249.9,173.6 251.0,168.2Z" fill="#020305" filter="url(#bl06)"/><path d="M346.2,181.2 C347.6,178.7 350.7,176.1 353.2,175.8 C355.6,175.5 359.6,176.6 360.8,179.5 C362.0,182.4 361.9,190.4 360.3,193.2 C358.8,195.9 354.0,196.4 351.4,196.0 C348.9,195.6 345.8,193.5 344.9,191.0 C344.0,188.5 344.8,183.8 346.2,181.2Z" fill="#06100e" filter="url(#bl06)"/><path d="M288.0,185.1 C289.3,183.4 288.4,180.4 289.7,179.5 C291.0,178.5 294.2,178.4 295.6,179.5 C296.9,180.6 297.9,183.5 297.7,186.0 C297.6,188.5 296.5,192.8 294.5,194.3 C292.5,195.7 288.0,195.4 285.8,194.7 C283.6,194.0 281.1,191.5 281.4,189.9 C281.8,188.3 286.6,186.9 288.0,185.1Z" fill="#081a14" filter="url(#bl06)"/><path d="M293.4,125.8 C292.8,128.1 291.0,135.7 289.7,139.9 C288.4,144.1 286.8,148.4 285.8,150.8 C284.8,153.1 284.0,153.5 283.6,154.0" stroke="#3cc2b8" stroke-width="1" fill="none" opacity="0.75"/><path d="M257.5,167.7 C258.7,168.6 261.9,172.3 264.5,173.0 C267.0,173.6 269.7,172.8 272.7,171.4 C275.7,170.1 279.1,166.7 282.5,164.9 C286.0,163.1 291.6,161.3 293.4,160.6" stroke="#3cc2b8" stroke-width="1" fill="none" opacity="0.75"/><path d="M304.3,120.3 C303.9,123.6 302.5,133.4 302.3,139.9 C302.1,146.4 303.2,153.0 303.2,159.5 C303.2,166.0 302.0,172.2 302.3,179.0 C302.6,185.9 304.5,197.2 304.9,200.8" stroke="#3cc2b8" stroke-width="1" fill="none" opacity="0.75"/><path d="M327.5,119.3 C327.6,122.7 327.6,133.2 328.2,139.9 C328.8,146.6 329.4,155.8 331.0,159.5 C332.6,163.2 337.4,159.9 337.5,162.1 C337.7,164.3 333.6,169.3 331.9,172.5 C330.1,175.7 328.6,176.1 327.1,181.2 C325.6,186.3 323.5,199.3 322.7,203.0" stroke="#3cc2b8" stroke-width="1" fill="none" opacity="0.75"/><path d="M360.8,167.7 C359.5,169.6 355.6,175.6 353.2,179.0 C350.7,182.4 347.4,186.7 346.2,188.2" stroke="#3cc2b8" stroke-width="1" fill="none" opacity="0.75"/><path d="M258.0,173.0 C258.9,175.8 262.2,184.9 263.6,189.9 C265.1,194.9 266.1,200.8 266.7,203.0" stroke="#3cc2b8" stroke-width="1" fill="none" opacity="0.75"/><path d="M314.0,178.0 C315.1,177.1 318.6,173.9 320.6,173.0 C322.6,172.0 325.1,172.2 326.0,172.1" stroke="#3cc2b8" stroke-width="1" fill="none" opacity="0.75"/><path d="M303.2,176.9 C302.3,177.6 299.0,179.4 297.7,181.2 C296.5,183.0 295.6,185.6 295.6,187.7 C295.6,189.9 297.4,193.2 297.7,194.3" stroke="#3cc2b8" stroke-width="1" fill="none" opacity="0.75"/><path d="M277.1,172.5 C278.2,174.0 281.6,179.8 283.6,181.2 C285.6,182.7 287.2,181.6 289.0,181.2 C290.9,180.9 293.6,179.4 294.5,179.0" stroke="#3cc2b8" stroke-width="1" fill="none" opacity="0.75"/><path d="M338.0,120.3 C338.7,124.0 341.2,135.6 342.3,142.1 C343.4,148.6 342.7,155.1 344.5,159.5 C346.3,163.8 351.7,166.7 353.2,168.2" stroke="#3cc2b8" stroke-width="1" fill="none" opacity="0.75"/><path d="M251.0,129.0 C252.4,130.1 256.4,132.7 259.7,135.6 C263.0,138.5 266.9,143.2 270.6,146.4 C274.2,149.7 279.6,153.7 281.4,155.1" stroke="#3cc2b8" stroke-width="1" fill="none" opacity="0.75"/><path d="M307.5,124.7 C309.0,126.1 313.7,132.7 316.2,133.4 C318.8,134.1 321.7,129.8 322.7,129.0" stroke="#3cc2b8" stroke-width="1" fill="none" opacity="0.75"/><text x="292.6" y="153" font-size="9" font-weight="bold" fill="#fff" text-anchor="middle">L</text><text x="329.6" y="160.4" font-size="9" font-weight="bold" fill="#fff" text-anchor="middle">L</text><text x="287.8" y="191.6" font-size="9" font-weight="bold" fill="#fff" text-anchor="middle">L</text><text x="353.7" y="189.9" font-size="9" font-weight="bold" fill="#fff" text-anchor="middle">L</text><rect x="346.5" y="199.39999999999998" width="15.899999999999977" height="1.6" fill="#fff"/><text x="354.6" y="197.3" font-size="5.6" fill="#fff" text-anchor="middle">100 μm</text></g>
<clipPath id="cC1"><rect x="18.5" y="244.2" width="281.5" height="111.4"/></clipPath><g clip-path="url(#cC1)"><rect x="18.5" y="244.2" width="281.5" height="111.4" fill="#050304"/><path d="M63.1,242.6 C28.3,244.7 54.9,251.3 50.8,254.9 C46.7,258.6 41.9,261.3 38.5,264.5 C35.1,267.7 32.3,270.2 30.3,274.0 C28.2,277.9 27.6,281.8 26.2,287.7 C24.8,293.6 22.6,303.2 22.1,309.5 C21.6,315.9 22.1,321.1 23.5,325.9 C24.8,330.7 28.2,335.3 30.3,338.2 C32.3,341.2 33.2,342.5 35.7,343.7 C38.3,344.8 41.9,345.3 45.3,345.0 C48.7,344.8 53.5,342.3 56.2,342.3 C59.0,342.3 59.0,344.6 61.7,345.0 C64.4,345.5 69.0,345.7 72.6,345.0 C76.3,344.4 79.0,341.4 83.5,340.9 C88.1,340.5 92.6,341.4 99.9,342.3 C107.2,343.2 117.2,345.3 127.2,346.4 C137.2,347.5 150.3,350.0 160.0,349.1 C169.7,348.2 174.3,342.1 185.3,340.9 C196.4,339.8 218.1,341.6 226.3,342.3 C234.5,343.0 231.3,343.7 234.5,345.0 C237.6,346.4 242.2,349.8 245.4,350.5 C248.6,351.2 250.8,350.5 253.6,349.1 C256.3,347.8 258.6,344.1 261.8,342.3 C265.0,340.5 269.1,339.6 272.7,338.2 C276.3,336.8 280.4,335.3 283.6,334.1 C286.8,333.0 290.1,333.2 291.8,331.4 C293.5,329.6 293.5,326.8 294.0,323.2 C294.4,319.6 294.7,314.1 294.5,309.5 C294.4,305.0 294.5,300.0 293.2,295.9 C291.8,291.8 289.3,288.1 286.3,285.0 C283.4,281.8 278.6,280.0 275.4,276.8 C272.2,273.6 269.5,268.6 267.2,265.8 C265.0,263.1 262.5,262.7 261.8,260.4 C261.1,258.1 263.6,255.2 263.1,252.2 C262.7,249.2 292.4,244.2 259.0,242.6 C225.7,241.0 97.8,240.6 63.1,242.6Z" fill="#1e1213"/><g clip-path="url(#clC1)" mask="url(#mC1)"><rect x="18.5" y="244.2" width="281.5" height="111.4" filter="url(#netW)"/><rect x="18.5" y="244.2" width="281.5" height="111.4" filter="url(#spW)"/></g><path d="M50.8,254.9 C48.7,256.5 41.9,261.3 38.5,264.5 C35.1,267.7 32.3,270.2 30.3,274.0 C28.2,277.9 27.6,281.8 26.2,287.7 C24.8,293.6 22.6,303.2 22.1,309.5 C21.6,315.9 22.1,321.1 23.5,325.9 C24.8,330.7 29.2,336.2 30.3,338.2" stroke="#f4f0f0" stroke-width="1.0" fill="none" stroke-linecap="round" opacity="0.85"/><path d="M30.3,336.8 C31.2,337.8 33.7,341.6 35.7,342.9 C37.8,344.1 41.4,344.2 42.6,344.5" stroke="#f4f0f0" stroke-width="2.2" fill="none" stroke-linecap="round" opacity="0.85"/><path d="M34.4,304.6 C35.7,304.4 39.8,303.9 42.6,303.5 C45.3,303.2 49.4,302.6 50.8,302.4" stroke="#f4f0f0" stroke-width="1.4" fill="none" stroke-linecap="round" opacity="0.85"/><path d="M89.5,254.9 C89.4,257.7 88.3,266.3 88.5,271.3 C88.6,276.3 89.5,281.7 90.6,285.0 C91.7,288.2 94.3,290.0 95.0,291.0" stroke="#f4f0f0" stroke-width="1.3" fill="none" stroke-linecap="round" opacity="0.85"/><path d="M61.7,315.5 C61.3,317.0 59.4,321.5 59.5,324.6 C59.6,327.7 60.5,331.8 62.2,334.1 C64.0,336.4 67.6,338.1 69.9,338.2 C72.2,338.3 74.9,335.3 75.9,334.7" stroke="#f4f0f0" stroke-width="1.3" fill="none" stroke-linecap="round" opacity="0.85"/><path d="M75.3,249.5 C74.8,251.3 72.7,256.7 72.1,260.4 C71.4,264.0 71.6,269.5 71.5,271.3" stroke="#f4f0f0" stroke-width="0.9" fill="none" stroke-linecap="round" opacity="0.85"/><path d="M158.0,339.6 C162.6,339.8 173.9,340.5 185.3,340.9 C196.7,341.4 219.4,342.1 226.3,342.3" stroke="#f4f0f0" stroke-width="1.2" fill="none" stroke-linecap="round" opacity="0.85"/><path d="M56.2,342.3 C60.8,342.1 71.7,340.4 83.5,340.9 C95.4,341.5 114.5,344.4 127.2,345.6 C140.0,346.8 154.5,347.9 160.0,348.3" stroke="#f4f0f0" stroke-width="1.1" fill="none" stroke-linecap="round" opacity="0.85"/><path d="M209.9,249.5 L207.7,260.4" stroke="#f4f0f0" stroke-width="1.6" fill="none" stroke-linecap="round" opacity="0.85"/><path d="M231.7,246.7 C232.0,249.0 233.1,254.9 233.1,260.4 C233.1,265.8 232.5,274.5 231.7,279.5 C231.0,284.5 229.6,287.7 228.5,290.4 C227.3,293.2 225.5,295.0 224.9,295.9" stroke="#f4f0f0" stroke-width="1.3" fill="none" stroke-linecap="round" opacity="0.85"/><path d="M254.9,291.8 C257.0,290.7 263.7,287.6 267.2,285.5 C270.7,283.4 274.5,280.0 276.0,279.0" stroke="#f4f0f0" stroke-width="2.4" fill="none" stroke-linecap="round" opacity="0.85"/><path d="M242.7,312.3 C244.0,313.4 248.0,316.8 250.8,319.1 C253.7,321.4 257.2,324.2 259.6,325.9 C262.0,327.6 264.1,328.7 265.0,329.2" stroke="#f4f0f0" stroke-width="2.4" fill="none" stroke-linecap="round" opacity="0.85"/><path d="M239.9,331.4 C240.8,332.7 243.5,337.3 245.4,339.6 C247.3,341.9 248.6,343.4 251.4,345.0 C254.2,346.6 260.5,348.5 262.3,349.1" stroke="#f4f0f0" stroke-width="1.8" fill="none" stroke-linecap="round" opacity="0.85"/><path d="M275.4,309.5 C277.2,310.0 283.4,310.4 286.3,312.3 C289.3,314.1 292.3,317.6 293.2,320.5 C294.1,323.3 293.4,326.9 291.8,329.2 C290.2,331.5 285.0,333.3 283.6,334.1" stroke="#f4f0f0" stroke-width="1.0" fill="none" stroke-linecap="round" opacity="0.85"/><path d="M158.0,309.5 L168.9,308.2" stroke="#f4f0f0" stroke-width="1.6" fill="none" stroke-linecap="round" opacity="0.85"/><path d="M263.1,252.2 C262.9,253.6 261.1,258.1 261.8,260.4 C262.5,262.7 265.0,263.1 267.2,265.8 C269.5,268.6 272.2,273.6 275.4,276.8 C278.6,280.0 283.4,281.8 286.3,285.0 C289.3,288.1 291.8,291.8 293.2,295.9 C294.5,300.0 294.3,307.3 294.5,309.5" stroke="#f4f0f0" stroke-width="0.9" fill="none" stroke-linecap="round" opacity="0.85"/><path d="M237.2,274.0 C239.0,274.9 246.7,276.8 248.1,279.5 C249.5,282.2 246.7,287.2 245.4,290.4 C244.0,293.6 240.8,297.2 239.9,298.6" stroke="#f4f0f0" stroke-width="0.9" fill="none" stroke-linecap="round" opacity="0.85"/><path d="M278.2,290.4 L289.1,293.7" stroke="#f4f0f0" stroke-width="1.2" fill="none" stroke-linecap="round" opacity="0.85"/><path d="M34.4,268.6 C35.7,271.3 41.0,280.0 42.6,285.0 C44.2,290.0 43.7,296.3 43.9,298.6" stroke="#f4f0f0" stroke-width="0.8" fill="none" stroke-linecap="round" opacity="0.85"/><path d="M26.2,312.3 C28.0,312.7 33.5,312.7 37.1,315.0 C40.8,317.3 45.3,322.3 48.0,325.9 C50.8,329.6 52.6,335.0 53.5,336.8" stroke="#f4f0f0" stroke-width="0.8" fill="none" stroke-linecap="round" opacity="0.85"/><path d="M45.3,268.6 C46.7,270.4 51.7,274.5 53.5,279.5 C55.3,284.5 55.8,295.4 56.2,298.6" stroke="#f4f0f0" stroke-width="0.7" fill="none" stroke-linecap="round" opacity="0.85"/><path d="M28.9,293.2 C30.7,293.6 36.7,293.6 39.8,295.9 C43.0,298.2 46.7,305.0 48.0,306.8" stroke="#f4f0f0" stroke-width="0.7" fill="none" stroke-linecap="round" opacity="0.85"/><path d="M24.8,317.7 C26.4,318.6 31.4,320.5 34.4,323.2 C37.3,325.9 41.2,332.3 42.6,334.1" stroke="#f4f0f0" stroke-width="0.7" fill="none" stroke-linecap="round" opacity="0.85"/><path d="M74.9,246.7 C74.5,250.8 72.0,262.5 72.2,271.1 C72.5,279.7 75.8,293.7 76.6,298.2" stroke="#f4f0f0" stroke-width="0.8" fill="none" stroke-linecap="round" opacity="0.85"/><path d="M91.2,246.7 C90.8,249.9 88.2,258.9 88.5,265.7 C88.8,272.5 92.1,283.8 92.8,287.4" stroke="#f4f0f0" stroke-width="0.7" fill="none" stroke-linecap="round" opacity="0.85"/><path d="M205.1,246.7 C205.5,250.8 208.1,263.4 207.8,271.1 C207.5,278.8 204.2,289.2 203.5,292.8" stroke="#f4f0f0" stroke-width="0.8" fill="none" stroke-linecap="round" opacity="0.85"/><path d="M221.4,246.7 C221.8,249.9 224.3,259.8 224.1,265.7 C223.8,271.6 220.5,279.2 219.7,282.0" stroke="#f4f0f0" stroke-width="0.7" fill="none" stroke-linecap="round" opacity="0.85"/><path d="M237.6,246.7 C238.1,251.7 240.8,268.0 240.3,276.5 C239.9,285.1 235.8,294.6 234.9,298.2" stroke="#f4f0f0" stroke-width="0.8" fill="none" stroke-linecap="round" opacity="0.85"/><path d="M126.5,268.4 C131.9,267.0 147.2,260.3 159.0,260.3 C170.7,260.3 190.6,267.0 197.0,268.4" stroke="#f4f0f0" stroke-width="0.7" fill="none" stroke-linecap="round" opacity="0.85"/><path d="M115.6,303.7 C122.8,302.7 143.6,298.0 159.0,298.2 C174.4,298.4 199.7,303.7 207.8,304.7" stroke="#f4f0f0" stroke-width="0.6" fill="none" stroke-linecap="round" opacity="0.85"/><path d="M161.7,311.8 L165.5,306.4" stroke="#f4f0f0" stroke-width="1.6" fill="none" stroke-linecap="round" opacity="0.85"/><path d="M50.5,248.3 C54.2,247.8 64.1,245.8 72.2,245.1 C80.4,244.4 94.8,244.2 99.3,244.0" stroke="#f4f0f0" stroke-width="0.9" fill="none" stroke-linecap="round" opacity="0.85"/><path d="M197.0,244.0 C203.3,244.2 225.0,244.2 234.9,245.1 C244.9,246.0 253.0,248.7 256.6,249.4" stroke="#f4f0f0" stroke-width="0.9" fill="none" stroke-linecap="round" opacity="0.85"/><path d="M63.1,242.6 C28.3,244.7 54.9,251.3 50.8,254.9 C46.7,258.6 41.9,261.3 38.5,264.5 C35.1,267.7 32.3,270.2 30.3,274.0 C28.2,277.9 27.6,281.8 26.2,287.7 C24.8,293.6 22.6,303.2 22.1,309.5 C21.6,315.9 22.1,321.1 23.5,325.9 C24.8,330.7 28.2,335.3 30.3,338.2 C32.3,341.2 33.2,342.5 35.7,343.7 C38.3,344.8 41.9,345.3 45.3,345.0 C48.7,344.8 53.5,342.3 56.2,342.3 C59.0,342.3 59.0,344.6 61.7,345.0 C64.4,345.5 69.0,345.7 72.6,345.0 C76.3,344.4 79.0,341.4 83.5,340.9 C88.1,340.5 92.6,341.4 99.9,342.3 C107.2,343.2 117.2,345.3 127.2,346.4 C137.2,347.5 150.3,350.0 160.0,349.1 C169.7,348.2 174.3,342.1 185.3,340.9 C196.4,339.8 218.1,341.6 226.3,342.3 C234.5,343.0 231.3,343.7 234.5,345.0 C237.6,346.4 242.2,349.8 245.4,350.5 C248.6,351.2 250.8,350.5 253.6,349.1 C256.3,347.8 258.6,344.1 261.8,342.3 C265.0,340.5 269.1,339.6 272.7,338.2 C276.3,336.8 280.4,335.3 283.6,334.1 C286.8,333.0 290.1,333.2 291.8,331.4 C293.5,329.6 293.5,326.8 294.0,323.2 C294.4,319.6 294.7,314.1 294.5,309.5 C294.4,305.0 294.5,300.0 293.2,295.9 C291.8,291.8 289.3,288.1 286.3,285.0 C283.4,281.8 278.6,280.0 275.4,276.8 C272.2,273.6 269.5,268.6 267.2,265.8 C265.0,263.1 262.5,262.7 261.8,260.4 C261.1,258.1 263.6,255.2 263.1,252.2 C262.7,249.2 292.4,244.2 259.0,242.6 C225.7,241.0 97.8,240.6 63.1,242.6Z" fill="none" stroke="#eee" stroke-width="1.3" opacity="0.85"/><g clip-path="url(#clC1)"><path d="M45.2,323.6 Q43.6,326.6 40.6,327.0 M25.0,300.6 Q23.9,299.9 20.5,301.5 M39.9,282.5 Q38.2,283.7 39.4,286.7 M33.5,338.1 Q33.4,337.9 31.5,339.8 M45.0,272.5 Q46.9,271.7 50.5,272.5 M57.4,334.4 Q59.3,337.2 61.0,339.0 M31.0,340.1 Q30.5,341.9 27.7,344.9 M36.3,275.8 Q36.7,276.6 38.3,276.8 M24.1,318.3 Q25.9,319.6 25.7,321.1 M34.7,301.9 Q35.5,301.4 33.4,303.7 M49.5,332.1 Q51.7,332.5 54.6,332.4 M24.3,265.9 Q25.9,268.2 29.2,269.0 M55.6,340.2 Q56.5,342.5 57.2,343.2 M27.7,324.1 Q24.1,327.1 23.3,327.4 M27.1,290.3 Q25.7,294.2 25.2,295.6 M42.5,287.9 Q42.0,288.0 44.0,290.2 M47.4,344.7 Q49.9,345.4 49.3,345.8 M37.8,281.7 Q36.9,284.0 36.3,286.8 M25.9,338.0 Q28.9,337.1 29.8,338.4 M48.9,340.8 Q46.7,343.0 46.8,345.6 M29.1,332.1 Q31.7,334.7 31.4,335.2 M57.2,299.6 Q57.2,301.5 57.4,304.6 M37.7,274.2 Q40.2,277.3 40.0,279.7 M41.0,290.1 Q43.3,291.6 43.9,290.9 M36.3,327.2 Q35.0,329.6 32.7,330.3 M36.4,320.5 Q38.4,322.6 38.9,323.5 M34.0,340.5 Q31.5,342.5 32.0,344.3 M32.5,317.7 Q33.3,321.3 33.1,323.0 M35.8,315.5 Q33.6,318.4 32.2,319.4 M53.6,319.1 Q50.7,319.4 47.8,319.6 M29.6,331.4 Q28.3,332.5 25.8,332.2 M48.8,276.3 Q47.7,277.4 45.5,279.0 M45.2,326.3 Q42.8,327.5 43.2,330.7 M39.0,316.0 Q41.2,316.1 42.7,319.0 M40.0,280.8 Q40.7,280.0 42.5,281.2 M30.6,265.0 Q31.1,267.0 31.0,268.5 M32.1,337.0 Q33.2,336.7 35.7,337.0 M27.9,331.0 Q28.7,330.8 28.7,333.0 M274.2,290.2 Q274.4,292.7 272.7,295.8 M287.0,315.3 Q287.8,316.7 288.0,317.7 M293.9,342.3 Q294.6,342.5 292.8,345.6 M253.2,309.0 Q253.1,311.3 252.3,311.4 M266.0,297.8 Q268.7,298.5 268.4,299.9 M294.1,337.8 Q295.1,339.3 293.2,340.7 M267.9,288.5 Q265.3,288.5 264.0,288.7 M253.9,313.6 Q255.0,316.1 254.4,316.7 M248.6,306.2 Q251.4,307.6 252.4,310.6 M260.8,274.8 Q259.6,274.8 257.7,275.0 M279.0,312.1 Q278.9,312.4 277.2,313.9 M273.6,289.9 Q274.7,291.1 276.1,293.2 M283.8,311.0 Q285.1,312.5 286.8,311.4 M290.6,307.3 Q293.0,307.6 295.7,307.5 M282.0,314.5 Q281.8,317.0 282.3,320.1 M288.9,278.3 Q289.2,281.5 292.1,282.6 M281.3,297.9 Q284.2,298.9 284.5,301.9 M271.0,307.6 Q269.9,309.5 271.0,310.9 M287.0,267.7 Q289.8,269.9 290.9,271.2 M249.2,322.0 Q246.8,320.8 243.2,322.4 M288.4,280.2 Q287.8,281.7 285.9,285.4 M262.0,338.2 Q263.8,338.2 266.0,340.2 M277.9,265.6 Q278.2,264.9 281.2,266.8 M275.6,323.6 Q274.2,323.5 273.3,324.6 M276.8,302.6 Q273.8,303.6 273.4,303.3 M255.3,314.4 Q255.4,317.6 255.1,320.0 M260.6,307.8 Q262.4,308.5 264.1,311.4 M259.3,292.8 Q259.0,294.3 257.4,294.8 M252.1,317.4 Q253.6,317.0 254.5,318.1 M290.1,301.9 Q290.0,304.8 292.8,306.3 M250.6,274.5 Q247.4,273.7 245.9,275.2 M294.7,317.2 Q294.0,317.4 292.5,318.6 M259.3,289.7 Q258.3,290.2 258.1,292.8 M287.9,315.8 Q287.4,316.9 284.8,317.9 M172.6,324.1 Q170.2,324.0 170.1,326.7 M98.5,301.7 Q97.4,300.8 94.8,303.0 M149.3,337.4 Q148.6,337.9 148.0,340.8 M89.4,306.7 Q91.2,307.3 90.7,310.0 M108.3,311.7 Q108.9,312.4 111.0,313.2 M66.1,338.8 Q67.8,342.0 68.4,344.1 M149.6,339.7 Q151.2,341.1 154.0,341.4 M198.6,306.9 Q198.6,306.2 200.3,308.1 M136.2,340.9 Q136.8,341.7 137.5,343.8 M199.1,330.2 Q201.0,332.2 201.7,331.6 M182.7,318.1 Q180.4,319.0 180.7,318.2 M137.9,301.9 Q137.5,304.4 137.0,307.8 M77.8,303.0 Q77.2,302.3 74.1,304.2 M106.3,302.1 Q105.9,302.9 107.0,304.2 M118.1,302.2 Q120.1,302.5 124.0,302.9 M136.4,322.3 Q136.8,322.9 139.6,323.2 M235.0,325.1 Q232.3,325.9 232.5,326.4 M152.4,324.0 Q154.0,327.3 154.1,328.2 M118.4,318.9 Q116.1,319.0 116.0,320.4 M76.7,332.4 Q74.2,332.1 73.9,334.2 M106.5,303.5 Q106.2,304.3 107.5,307.7 M193.1,302.0 Q194.0,301.7 195.7,303.9 M139.9,313.2 Q139.6,315.1 136.9,316.2 M204.3,324.1 Q205.3,328.1 205.3,329.3 M198.3,329.4 Q199.7,330.3 201.8,333.4 M72.5,307.1 Q73.5,307.5 75.7,310.6 M205.1,323.4 Q205.1,323.1 207.3,323.6 M223.4,339.9 Q222.6,340.8 222.4,342.6 M122.8,300.5 Q122.8,301.9 121.4,305.6 M160.8,307.2 Q160.9,309.6 158.4,310.2 M82.5,313.3 Q80.4,313.6 78.8,314.3 M205.8,339.3 Q205.8,341.1 205.2,345.2 M214.7,317.6 Q216.2,318.3 220.5,318.6 M151.6,337.0 Q151.4,337.5 152.5,339.7 M166.9,315.0 Q165.4,315.3 164.8,317.1 M246.7,335.3 Q244.4,335.2 242.7,337.3 M218.0,320.6 Q218.1,321.4 220.7,320.9 M231.0,308.4 Q230.3,310.4 228.4,310.3 M178.4,333.6 Q178.8,334.8 179.2,335.5 M95.1,316.3 Q95.1,316.9 96.2,318.1" stroke="#f0e8e8" stroke-width="0.7" fill="none" opacity="0.75"/></g><rect x="272.3" y="350.4" width="22.5" height="1.6" fill="#fff"/><text x="272.3" y="348.8" font-size="6.4" fill="#fff" textLength="21.6" lengthAdjust="spacingAndGlyphs">500 μm</text></g>
<clipPath id="cC2"><rect x="18.5" y="358" width="281.5" height="110.5"/></clipPath><g clip-path="url(#cC2)"><rect x="18.5" y="358" width="281.5" height="110.5" fill="#050404"/><path d="M59.0,464.9 C54.1,465.0 53.1,462.9 50.8,460.8 C48.5,458.8 47.1,454.9 45.3,452.6 C43.5,450.3 42.3,448.5 39.8,447.1 C37.3,445.7 32.8,446.2 30.3,444.4 C27.8,442.6 25.0,438.9 24.8,436.2 C24.6,433.5 27.3,430.7 28.9,428.0 C30.5,425.3 35.1,421.6 34.4,419.8 C33.7,418.0 26.9,419.4 24.8,417.1 C22.8,414.8 21.9,409.4 22.1,406.2 C22.3,403.0 24.1,400.1 26.2,398.0 C28.2,395.9 32.6,396.2 34.4,393.9 C36.2,391.6 36.2,387.7 37.1,384.3 C38.0,380.9 38.0,375.9 39.8,373.4 C41.6,370.9 44.4,370.2 48.0,369.3 C51.6,368.4 58.3,369.5 61.7,367.9 C65.1,366.3 65.3,361.3 68.5,359.7 C71.7,358.1 77.4,356.6 80.8,358.4 C84.2,360.2 86.7,368.2 89.0,370.7 C91.3,373.2 92.7,373.6 94.5,373.4 C96.3,373.2 97.2,369.5 99.9,369.3 C102.6,369.1 108.1,370.6 110.8,372.0 C113.5,373.4 113.6,377.3 116.3,377.5 C119.0,377.7 123.6,375.4 127.2,373.4 C130.8,371.3 134.5,367.2 138.2,365.2 C141.8,363.1 145.5,361.6 149.1,361.1 C152.7,360.7 155.8,361.6 160.0,362.5 C164.2,363.4 169.7,364.7 174.4,366.5 C179.1,368.3 183.9,373.1 188.0,373.4 C192.1,373.7 194.9,369.3 199.0,368.3 C203.1,367.3 208.7,368.5 212.6,367.3 C216.5,366.1 218.5,362.6 222.2,361.1 C225.8,359.6 230.2,358.6 234.5,358.4 C238.8,358.2 243.5,359.2 248.1,359.7 C252.7,360.1 258.2,359.7 261.8,361.1 C265.4,362.5 268.2,365.4 270.0,367.9 C271.8,370.4 270.9,373.8 272.7,376.1 C274.5,378.4 277.7,379.8 280.9,381.6 C284.1,383.4 289.1,384.3 291.8,387.0 C294.5,389.7 296.6,394.3 297.3,398.0 C298.0,401.7 296.9,406.6 296.0,409.0 C295.1,411.4 292.0,410.8 291.8,412.6 C291.6,414.4 295.0,417.2 295.0,419.8 C295.0,422.4 293.7,425.3 291.8,428.0 C289.9,430.7 286.0,434.4 283.6,436.2 C281.2,438.0 278.5,437.5 277.4,438.9 C276.2,440.3 277.9,442.1 276.7,444.4 C275.5,446.7 273.1,450.3 270.2,452.6 C267.3,454.9 263.0,456.6 259.3,458.0 C255.6,459.4 251.3,460.6 248.1,460.8 C244.9,461.0 244.3,461.1 239.9,459.4 C235.5,457.7 229.1,451.3 221.5,450.8 C213.9,450.3 208.7,455.2 194.6,456.5 C180.5,457.8 156.1,457.9 137.0,458.5 C117.9,459.1 93.0,458.9 80.0,460.0 C67.0,461.1 63.9,464.8 59.0,464.9Z" fill="#130b0b"/><g clip-path="url(#clC2)"><rect x="18.5" y="358" width="281.5" height="110.5" filter="url(#netW2)" opacity="1"/><path d="M22.0,405.0 C23.3,398.7 27.0,397.5 30.0,392.0 C33.0,386.5 34.7,376.3 40.0,372.0 C45.3,367.7 55.3,368.3 62.0,366.0 C68.7,363.7 75.0,357.0 80.0,358.0 C85.0,359.0 86.7,369.7 92.0,372.0 C97.3,374.3 108.7,368.7 112.0,372.0 C115.3,375.3 111.0,384.0 112.0,392.0 C113.0,400.0 121.7,413.3 118.0,420.0 C114.3,426.7 98.0,427.8 90.0,432.0 C82.0,436.2 75.0,439.5 70.0,445.0 C65.0,450.5 65.0,463.8 60.0,465.0 C55.0,466.2 46.3,457.8 40.0,452.0 C33.7,446.2 25.0,437.8 22.0,430.0 C19.0,422.2 20.7,411.3 22.0,405.0Z" fill="#1c0707" filter="url(#bl3)"/><path d="M188.0,371.0 C193.0,363.5 209.7,361.8 222.0,360.0 C234.3,358.2 250.7,355.7 262.0,360.0 C273.3,364.3 284.0,379.3 290.0,386.0 C296.0,392.7 297.3,392.7 298.0,400.0 C298.7,407.3 298.3,421.7 294.0,430.0 C289.7,438.3 278.5,445.0 272.0,450.0 C265.5,455.0 261.0,459.7 255.0,460.0 C249.0,460.3 239.8,457.0 236.0,452.0 C232.2,447.0 236.0,436.7 232.0,430.0 C228.0,423.3 218.7,416.2 212.0,412.0 C205.3,407.8 196.0,411.8 192.0,405.0 C188.0,398.2 183.0,378.5 188.0,371.0Z" fill="#1c0707" filter="url(#bl3)"/><path d="M111.0,392.0 C110.7,387.0 115.2,381.8 120.0,378.0 C124.8,374.2 133.3,371.0 140.0,369.0 C146.7,367.0 153.7,366.2 160.0,366.0 C166.3,365.8 173.0,366.5 178.0,368.0 C183.0,369.5 187.3,371.3 190.0,375.0 C192.7,378.7 194.0,384.5 194.0,390.0 C194.0,395.5 193.2,403.2 190.0,408.0 C186.8,412.8 180.3,416.7 175.0,419.0 C169.7,421.3 163.8,422.2 158.0,422.0 C152.2,421.8 146.0,420.3 140.0,418.0 C134.0,415.7 126.8,412.3 122.0,408.0 C117.2,403.7 111.3,397.0 111.0,392.0Z" fill="#1f0a0a"/><path d="M111.0,392.0 C110.7,387.0 115.2,381.8 120.0,378.0 C124.8,374.2 133.3,371.0 140.0,369.0 C146.7,367.0 153.7,366.2 160.0,366.0 C166.3,365.8 173.0,366.5 178.0,368.0 C183.0,369.5 187.3,371.3 190.0,375.0 C192.7,378.7 194.0,384.5 194.0,390.0 C194.0,395.5 193.2,403.2 190.0,408.0 C186.8,412.8 180.3,416.7 175.0,419.0 C169.7,421.3 163.8,422.2 158.0,422.0 C152.2,421.8 146.0,420.3 140.0,418.0 C134.0,415.7 126.8,412.3 122.0,408.0 C117.2,403.7 111.3,397.0 111.0,392.0Z" fill="none" stroke="#5a1212" stroke-width="8" opacity="0.8" filter="url(#bl15)" clip-path="url(#clOval)"/><g mask="url(#mFol)"><path d="M59.0,464.9 C54.1,465.0 53.1,462.9 50.8,460.8 C48.5,458.8 47.1,454.9 45.3,452.6 C43.5,450.3 42.3,448.5 39.8,447.1 C37.3,445.7 32.8,446.2 30.3,444.4 C27.8,442.6 25.0,438.9 24.8,436.2 C24.6,433.5 27.3,430.7 28.9,428.0 C30.5,425.3 35.1,421.6 34.4,419.8 C33.7,418.0 26.9,419.4 24.8,417.1 C22.8,414.8 21.9,409.4 22.1,406.2 C22.3,403.0 24.1,400.1 26.2,398.0 C28.2,395.9 32.6,396.2 34.4,393.9 C36.2,391.6 36.2,387.7 37.1,384.3 C38.0,380.9 38.0,375.9 39.8,373.4 C41.6,370.9 44.4,370.2 48.0,369.3 C51.6,368.4 58.3,369.5 61.7,367.9 C65.1,366.3 65.3,361.3 68.5,359.7 C71.7,358.1 77.4,356.6 80.8,358.4 C84.2,360.2 86.7,368.2 89.0,370.7 C91.3,373.2 92.7,373.6 94.5,373.4 C96.3,373.2 97.2,369.5 99.9,369.3 C102.6,369.1 108.1,370.6 110.8,372.0 C113.5,373.4 113.6,377.3 116.3,377.5 C119.0,377.7 123.6,375.4 127.2,373.4 C130.8,371.3 134.5,367.2 138.2,365.2 C141.8,363.1 145.5,361.6 149.1,361.1 C152.7,360.7 155.8,361.6 160.0,362.5 C164.2,363.4 169.7,364.7 174.4,366.5 C179.1,368.3 183.9,373.1 188.0,373.4 C192.1,373.7 194.9,369.3 199.0,368.3 C203.1,367.3 208.7,368.5 212.6,367.3 C216.5,366.1 218.5,362.6 222.2,361.1 C225.8,359.6 230.2,358.6 234.5,358.4 C238.8,358.2 243.5,359.2 248.1,359.7 C252.7,360.1 258.2,359.7 261.8,361.1 C265.4,362.5 268.2,365.4 270.0,367.9 C271.8,370.4 270.9,373.8 272.7,376.1 C274.5,378.4 277.7,379.8 280.9,381.6 C284.1,383.4 289.1,384.3 291.8,387.0 C294.5,389.7 296.6,394.3 297.3,398.0 C298.0,401.7 296.9,406.6 296.0,409.0 C295.1,411.4 292.0,410.8 291.8,412.6 C291.6,414.4 295.0,417.2 295.0,419.8 C295.0,422.4 293.7,425.3 291.8,428.0 C289.9,430.7 286.0,434.4 283.6,436.2 C281.2,438.0 278.5,437.5 277.4,438.9 C276.2,440.3 277.9,442.1 276.7,444.4 C275.5,446.7 273.1,450.3 270.2,452.6 C267.3,454.9 263.0,456.6 259.3,458.0 C255.6,459.4 251.3,460.6 248.1,460.8 C244.9,461.0 244.3,461.1 239.9,459.4 C235.5,457.7 229.1,451.3 221.5,450.8 C213.9,450.3 208.7,455.2 194.6,456.5 C180.5,457.8 156.1,457.9 137.0,458.5 C117.9,459.1 93.0,458.9 80.0,460.0 C67.0,461.1 63.9,464.8 59.0,464.9Z" fill="none" stroke="#f02020" stroke-width="11" opacity="0.9" filter="url(#bl15)"/></g><path d="M84.0,372.0 C84.0,374.3 84.3,381.3 84.0,386.0 C83.7,390.7 81.7,395.7 82.0,400.0 C82.3,404.3 85.3,410.0 86.0,412.0" fill="none" stroke="#e01818" stroke-width="7" opacity="0.8" filter="url(#bl15)"/><path d="M37.0,384.0 C38.8,385.0 44.2,389.3 48.0,390.0 C51.8,390.7 58.0,388.3 60.0,388.0" fill="none" stroke="#e01818" stroke-width="7" opacity="0.8" filter="url(#bl15)"/><path d="M30.0,420.0 C32.3,419.7 39.7,417.3 44.0,418.0 C48.3,418.7 54.0,423.0 56.0,424.0" fill="none" stroke="#e01818" stroke-width="7" opacity="0.8" filter="url(#bl15)"/><path d="M46.0,445.0 C48.0,443.8 54.0,440.2 58.0,438.0 C62.0,435.8 68.0,433.0 70.0,432.0" fill="none" stroke="#e01818" stroke-width="7" opacity="0.8" filter="url(#bl15)"/><path d="M226.0,364.0 C226.7,366.7 229.7,374.3 230.0,380.0 C230.3,385.7 229.3,393.3 228.0,398.0 C226.7,402.7 223.0,406.3 222.0,408.0" fill="none" stroke="#e01818" stroke-width="7" opacity="0.8" filter="url(#bl15)"/><path d="M246.0,360.0 C245.8,363.0 244.0,372.7 245.0,378.0 C246.0,383.3 249.2,389.0 252.0,392.0 C254.8,395.0 260.3,395.3 262.0,396.0" fill="none" stroke="#e01818" stroke-width="7" opacity="0.8" filter="url(#bl15)"/><path d="M272.0,376.0 C270.3,377.5 264.7,381.0 262.0,385.0 C259.3,389.0 256.7,394.2 256.0,400.0 C255.3,405.8 257.7,416.7 258.0,420.0" fill="none" stroke="#e01818" stroke-width="7" opacity="0.8" filter="url(#bl15)"/><path d="M292.0,412.0 C290.0,412.3 283.7,412.7 280.0,414.0 C276.3,415.3 271.7,419.0 270.0,420.0" fill="none" stroke="#e01818" stroke-width="7" opacity="0.8" filter="url(#bl15)"/><path d="M277.0,439.0 C274.5,438.5 266.5,436.2 262.0,436.0 C257.5,435.8 252.0,437.7 250.0,438.0" fill="none" stroke="#e01818" stroke-width="7" opacity="0.8" filter="url(#bl15)"/><rect x="18.5" y="358" width="281.5" height="110.5" filter="url(#spRd)" opacity="0.9"/></g><path d="M84.0,372.0 C84.0,374.3 84.3,381.3 84.0,386.0 C83.7,390.7 81.7,395.7 82.0,400.0 C82.3,404.3 85.3,410.0 86.0,412.0" fill="none" stroke="#d8d8d8" stroke-width="0.8" opacity="0.8"/><path d="M37.0,384.0 C38.8,385.0 44.2,389.3 48.0,390.0 C51.8,390.7 58.0,388.3 60.0,388.0" fill="none" stroke="#d8d8d8" stroke-width="0.8" opacity="0.8"/><path d="M30.0,420.0 C32.3,419.7 39.7,417.3 44.0,418.0 C48.3,418.7 54.0,423.0 56.0,424.0" fill="none" stroke="#d8d8d8" stroke-width="0.8" opacity="0.8"/><path d="M46.0,445.0 C48.0,443.8 54.0,440.2 58.0,438.0 C62.0,435.8 68.0,433.0 70.0,432.0" fill="none" stroke="#d8d8d8" stroke-width="0.8" opacity="0.8"/><path d="M226.0,364.0 C226.7,366.7 229.7,374.3 230.0,380.0 C230.3,385.7 229.3,393.3 228.0,398.0 C226.7,402.7 223.0,406.3 222.0,408.0" fill="none" stroke="#d8d8d8" stroke-width="0.8" opacity="0.8"/><path d="M246.0,360.0 C245.8,363.0 244.0,372.7 245.0,378.0 C246.0,383.3 249.2,389.0 252.0,392.0 C254.8,395.0 260.3,395.3 262.0,396.0" fill="none" stroke="#d8d8d8" stroke-width="0.8" opacity="0.8"/><path d="M272.0,376.0 C270.3,377.5 264.7,381.0 262.0,385.0 C259.3,389.0 256.7,394.2 256.0,400.0 C255.3,405.8 257.7,416.7 258.0,420.0" fill="none" stroke="#d8d8d8" stroke-width="0.8" opacity="0.8"/><path d="M292.0,412.0 C290.0,412.3 283.7,412.7 280.0,414.0 C276.3,415.3 271.7,419.0 270.0,420.0" fill="none" stroke="#d8d8d8" stroke-width="0.8" opacity="0.8"/><path d="M277.0,439.0 C274.5,438.5 266.5,436.2 262.0,436.0 C257.5,435.8 252.0,437.7 250.0,438.0" fill="none" stroke="#d8d8d8" stroke-width="0.8" opacity="0.8"/><circle cx="54.3" cy="383.7" r="3.6" fill="#8a878a" stroke="#d8d8d8" stroke-width="0.7" opacity="0.9"/><circle cx="94.5" cy="385" r="3.6" fill="#8a878a" stroke="#d8d8d8" stroke-width="0.7" opacity="0.9"/><circle cx="235" cy="377" r="3" fill="#8a878a" stroke="#d8d8d8" stroke-width="0.7" opacity="0.9"/><circle cx="245" cy="371" r="2.3" fill="#8a878a" stroke="#d8d8d8" stroke-width="0.7" opacity="0.9"/><circle cx="243" cy="387" r="2.6" fill="#8a878a" stroke="#d8d8d8" stroke-width="0.7" opacity="0.9"/><circle cx="262" cy="372" r="2.8" fill="#8a878a" stroke="#d8d8d8" stroke-width="0.7" opacity="0.9"/><circle cx="270" cy="382" r="2.3" fill="#8a878a" stroke="#d8d8d8" stroke-width="0.7" opacity="0.9"/><circle cx="255" cy="398" r="2.3" fill="#8a878a" stroke="#d8d8d8" stroke-width="0.7" opacity="0.9"/><circle cx="228" cy="400" r="2" fill="#8a878a" stroke="#d8d8d8" stroke-width="0.7" opacity="0.9"/><circle cx="280" cy="403" r="2.2" fill="#8a878a" stroke="#d8d8d8" stroke-width="0.7" opacity="0.9"/><circle cx="266" cy="395" r="1.9" fill="#8a878a" stroke="#d8d8d8" stroke-width="0.7" opacity="0.9"/><circle cx="213" cy="398" r="2.2" fill="#8a878a" stroke="#d8d8d8" stroke-width="0.7" opacity="0.9"/><circle cx="205" cy="385" r="1.7" fill="#8a878a" stroke="#d8d8d8" stroke-width="0.7" opacity="0.9"/><circle cx="248" cy="447" r="1.8" fill="#8a878a" stroke="#d8d8d8" stroke-width="0.7" opacity="0.9"/><path d="M59.0,464.9 C54.1,465.0 53.1,462.9 50.8,460.8 C48.5,458.8 47.1,454.9 45.3,452.6 C43.5,450.3 42.3,448.5 39.8,447.1 C37.3,445.7 32.8,446.2 30.3,444.4 C27.8,442.6 25.0,438.9 24.8,436.2 C24.6,433.5 27.3,430.7 28.9,428.0 C30.5,425.3 35.1,421.6 34.4,419.8 C33.7,418.0 26.9,419.4 24.8,417.1 C22.8,414.8 21.9,409.4 22.1,406.2 C22.3,403.0 24.1,400.1 26.2,398.0 C28.2,395.9 32.6,396.2 34.4,393.9 C36.2,391.6 36.2,387.7 37.1,384.3 C38.0,380.9 38.0,375.9 39.8,373.4 C41.6,370.9 44.4,370.2 48.0,369.3 C51.6,368.4 58.3,369.5 61.7,367.9 C65.1,366.3 65.3,361.3 68.5,359.7 C71.7,358.1 77.4,356.6 80.8,358.4 C84.2,360.2 86.7,368.2 89.0,370.7 C91.3,373.2 92.7,373.6 94.5,373.4 C96.3,373.2 97.2,369.5 99.9,369.3 C102.6,369.1 108.1,370.6 110.8,372.0 C113.5,373.4 113.6,377.3 116.3,377.5 C119.0,377.7 123.6,375.4 127.2,373.4 C130.8,371.3 134.5,367.2 138.2,365.2 C141.8,363.1 145.5,361.6 149.1,361.1 C152.7,360.7 155.8,361.6 160.0,362.5 C164.2,363.4 169.7,364.7 174.4,366.5 C179.1,368.3 183.9,373.1 188.0,373.4 C192.1,373.7 194.9,369.3 199.0,368.3 C203.1,367.3 208.7,368.5 212.6,367.3 C216.5,366.1 218.5,362.6 222.2,361.1 C225.8,359.6 230.2,358.6 234.5,358.4 C238.8,358.2 243.5,359.2 248.1,359.7 C252.7,360.1 258.2,359.7 261.8,361.1 C265.4,362.5 268.2,365.4 270.0,367.9 C271.8,370.4 270.9,373.8 272.7,376.1 C274.5,378.4 277.7,379.8 280.9,381.6 C284.1,383.4 289.1,384.3 291.8,387.0 C294.5,389.7 296.6,394.3 297.3,398.0 C298.0,401.7 296.9,406.6 296.0,409.0 C295.1,411.4 292.0,410.8 291.8,412.6 C291.6,414.4 295.0,417.2 295.0,419.8 C295.0,422.4 293.7,425.3 291.8,428.0 C289.9,430.7 286.0,434.4 283.6,436.2 C281.2,438.0 278.5,437.5 277.4,438.9 C276.2,440.3 277.9,442.1 276.7,444.4 C275.5,446.7 273.1,450.3 270.2,452.6 C267.3,454.9 263.0,456.6 259.3,458.0 C255.6,459.4 251.3,460.6 248.1,460.8 C244.9,461.0 244.3,461.1 239.9,459.4 C235.5,457.7 229.1,451.3 221.5,450.8 C213.9,450.3 208.7,455.2 194.6,456.5 C180.5,457.8 156.1,457.9 137.0,458.5 C117.9,459.1 93.0,458.9 80.0,460.0 C67.0,461.1 63.9,464.8 59.0,464.9Z" fill="none" stroke="#e4e4e4" stroke-width="1.6" opacity="0.95"/><path d="M111.0,392.0 C110.7,387.0 115.2,381.8 120.0,378.0 C124.8,374.2 133.3,371.0 140.0,369.0 C146.7,367.0 153.7,366.2 160.0,366.0 C166.3,365.8 173.0,366.5 178.0,368.0 C183.0,369.5 187.3,371.3 190.0,375.0 C192.7,378.7 194.0,384.5 194.0,390.0 C194.0,395.5 193.2,403.2 190.0,408.0 C186.8,412.8 180.3,416.7 175.0,419.0 C169.7,421.3 163.8,422.2 158.0,422.0 C152.2,421.8 146.0,420.3 140.0,418.0 C134.0,415.7 126.8,412.3 122.0,408.0 C117.2,403.7 111.3,397.0 111.0,392.0Z" fill="none" stroke="#e4e4e4" stroke-width="1.6" opacity="0.9"/><path d="M30.0,400.0 C32.5,399.7 40.8,397.3 45.0,398.0 C49.2,398.7 53.3,403.0 55.0,404.0" fill="none" stroke="#e0e0e0" stroke-width="1.1" opacity="0.85"/><path d="M28.0,428.0 C30.8,427.5 39.7,424.3 45.0,425.0 C50.3,425.7 57.5,430.8 60.0,432.0" fill="none" stroke="#e0e0e0" stroke-width="1.1" opacity="0.85"/><path d="M40.0,445.0 C42.5,444.2 50.0,440.0 55.0,440.0 C60.0,440.0 67.5,444.2 70.0,445.0" fill="none" stroke="#e0e0e0" stroke-width="1.1" opacity="0.85"/><path d="M60.0,370.0 C60.3,372.5 60.3,380.3 62.0,385.0 C63.7,389.7 68.7,395.8 70.0,398.0" fill="none" stroke="#e0e0e0" stroke-width="1.1" opacity="0.85"/><path d="M100.0,375.0 C100.3,378.3 101.0,389.2 102.0,395.0 C103.0,400.8 105.3,407.5 106.0,410.0" fill="none" stroke="#e0e0e0" stroke-width="1.1" opacity="0.85"/><path d="M200.0,372.0 C200.8,375.0 203.3,384.5 205.0,390.0 C206.7,395.5 209.2,402.5 210.0,405.0" fill="none" stroke="#e0e0e0" stroke-width="1.1" opacity="0.85"/><path d="M250.0,362.0 C250.3,364.7 250.0,373.3 252.0,378.0 C254.0,382.7 260.3,388.0 262.0,390.0" fill="none" stroke="#e0e0e0" stroke-width="1.1" opacity="0.85"/><path d="M272.0,380.0 C270.8,382.5 265.3,389.7 265.0,395.0 C264.7,400.3 269.2,409.2 270.0,412.0" fill="none" stroke="#e0e0e0" stroke-width="1.1" opacity="0.85"/><path d="M292.0,410.0 C289.2,410.8 280.0,412.5 275.0,415.0 C270.0,417.5 264.2,423.3 262.0,425.0" fill="none" stroke="#e0e0e0" stroke-width="1.1" opacity="0.85"/><path d="M70.0,420.0 C73.3,419.3 83.7,416.0 90.0,416.0 C96.3,416.0 105.0,419.3 108.0,420.0" fill="none" stroke="#e0e0e0" stroke-width="1.1" opacity="0.85"/><path d="M230.0,420.0 C232.5,421.3 240.3,424.7 245.0,428.0 C249.7,431.3 255.8,438.0 258.0,440.0" fill="none" stroke="#e0e0e0" stroke-width="1.1" opacity="0.85"/><path d="M106.0,392.0 C105.8,385.7 110.7,378.7 116.0,374.0 C121.3,369.3 130.7,366.2 138.0,364.0 C145.3,361.8 152.8,361.2 160.0,361.0 C167.2,360.8 175.2,361.2 181.0,363.0 C186.8,364.8 191.8,367.5 195.0,372.0 C198.2,376.5 200.0,383.7 200.0,390.0 C200.0,396.3 198.7,404.3 195.0,410.0 C191.3,415.7 184.2,421.2 178.0,424.0 C171.8,426.8 164.8,427.2 158.0,427.0 C151.2,426.8 143.8,425.5 137.0,423.0 C130.2,420.5 122.2,417.2 117.0,412.0 C111.8,406.8 106.2,398.3 106.0,392.0Z" fill="none" stroke="#d8d8d8" stroke-width="1.2" opacity="0.75"/><path d="M158.0,422.0 C162.5,423.7 175.5,428.7 185.0,432.0 C194.5,435.3 205.8,438.7 215.0,442.0 C224.2,445.3 235.8,450.3 240.0,452.0" fill="none" stroke="#e4e4e4" stroke-width="0.8" opacity="0.6"/><path d="M60.0,446.0 C66.7,446.7 86.7,449.0 100.0,450.0 C113.3,451.0 124.3,452.0 140.0,452.0 C155.7,452.0 185.0,450.3 194.0,450.0" fill="none" stroke="#e4e4e4" stroke-width="0.8" opacity="0.6"/><path d="M120.0,430.0 C123.3,431.0 132.5,434.3 140.0,436.0 C147.5,437.7 160.8,439.3 165.0,440.0" fill="none" stroke="#e4e4e4" stroke-width="0.8" opacity="0.6"/><path d="M200.0,420.0 C202.5,421.7 211.3,425.8 215.0,430.0 C218.7,434.2 220.8,442.5 222.0,445.0" fill="none" stroke="#e4e4e4" stroke-width="0.8" opacity="0.6"/><rect x="35.7" y="369.3" width="31.5" height="30" fill="none" stroke="#5cc04a" stroke-width="0.9" stroke-dasharray="2.2,1.4"/><rect x="272.3" y="463.9" width="22.5" height="1.6" fill="#fff"/><text x="272.3" y="462.3" font-size="6.4" fill="#fff" textLength="21.6" lengthAdjust="spacingAndGlyphs">500 μm</text></g>
<clipPath id="cD1"><rect x="337.5" y="244.5" width="87.2" height="86.3"/></clipPath><g clip-path="url(#cD1)"><rect x="337.5" y="244.5" width="87.2" height="86.3" fill="#080505"/><path d="M347.2,266.0 C350.8,261.2 357.0,256.7 362.4,254.2 C367.7,251.6 373.7,250.8 379.3,250.8 C384.9,250.8 391.4,251.6 396.2,254.2 C401.0,256.7 403.3,264.6 408.1,266.0 C412.9,267.4 422.2,257.8 425.0,262.6 C427.8,267.4 427.8,288.6 425.0,294.8 C422.2,301.0 412.6,297.0 408.1,299.8 C403.6,302.7 401.3,308.6 397.9,311.7 C394.5,314.8 392.3,317.3 387.8,318.5 C383.3,319.6 376.5,319.6 370.8,318.5 C365.2,317.3 358.7,314.8 353.9,311.7 C349.1,308.6 344.3,304.6 342.1,299.8 C339.8,295.1 339.5,288.6 340.4,282.9 C341.2,277.3 343.5,270.8 347.2,266.0Z" fill="#4a0c0c" opacity="0.55" filter="url(#bl3)"/><path d="M352.2,267.7 C353.9,266.6 359.0,262.6 362.4,260.9 C365.8,259.3 368.6,258.6 372.5,257.9 C376.5,257.2 382.1,256.3 386.1,256.7 C390.0,257.1 393.3,258.4 396.2,260.1 C399.2,261.8 401.3,264.7 403.8,266.8 C406.4,269.0 408.8,272.3 411.5,272.8 C414.1,273.2 417.4,270.8 419.9,269.4 C422.5,268.0 425.6,265.2 426.7,264.3" fill="none" stroke="#e01818" stroke-width="9" opacity="0.9" stroke-linecap="round" filter="url(#bl2)"/><path d="M348.8,275.3 C348.1,276.9 344.7,281.4 344.1,284.6 C343.5,287.9 343.5,291.4 345.1,294.8 C346.8,298.2 350.5,302.3 353.9,304.9 C357.4,307.5 361.5,309.1 365.8,310.3 C370.0,311.6 375.1,311.8 379.3,312.5 C383.5,313.3 389.2,314.4 391.2,314.7" fill="none" stroke="#dc1616" stroke-width="9" opacity="0.9" stroke-linecap="round" filter="url(#bl2)"/><path d="M337.0,323.5 C338.7,323.8 344.1,324.4 347.2,325.2 C350.3,326.1 354.2,328.1 355.6,328.6" fill="none" stroke="#c01414" stroke-width="9" opacity="0.7" stroke-linecap="round" filter="url(#bl2)"/><rect x="337.5" y="244.5" width="87.2" height="86.3" filter="url(#spRd)" opacity="0.4"/><path d="M374.6,276.2 C376.0,273.8 378.5,271.9 381.3,271.1 C384.2,270.2 388.4,270.1 391.5,271.1 C394.5,272.1 398.1,274.5 399.6,277.0 C401.1,279.5 401.2,283.5 400.5,286.3 C399.8,289.1 397.8,292.5 395.4,293.9 C393.0,295.4 389.0,295.2 386.1,295.1 C383.1,295.0 379.8,294.7 377.6,293.1 C375.4,291.5 373.4,288.3 372.9,285.5 C372.4,282.6 373.2,278.6 374.6,276.2Z" fill="#444244" stroke="#d8d8d8" stroke-width="1"/><path d="M338.4,278.7 C339.3,276.9 341.5,271.1 343.8,267.7 C346.1,264.3 349.1,261.2 352.2,258.4 C355.3,255.6 359.0,252.9 362.4,250.8 C365.8,248.7 370.0,246.8 372.5,245.7 C375.1,244.6 376.8,244.3 377.6,244.0" fill="none" stroke="#ececec" stroke-width="1.1" opacity="0.9"/><path d="M340.7,280.4 C341.8,278.6 344.7,272.6 347.2,269.4 C349.6,266.1 352.5,263.5 355.6,260.9 C358.7,258.4 362.7,256.1 365.8,254.2 C368.9,252.2 371.7,250.3 374.2,249.1 C376.8,247.8 379.9,247.0 381.0,246.5" fill="none" stroke="#ececec" stroke-width="1.0" opacity="0.9"/><path d="M338.7,279.5 C338.6,280.9 337.9,284.6 337.8,288.0 C337.8,291.4 338.3,297.9 338.4,299.8" fill="none" stroke="#ececec" stroke-width="1.0" opacity="0.9"/><path d="M379.3,245.7 C381.0,246.0 386.4,246.3 389.5,247.4 C392.6,248.5 395.9,250.5 397.9,252.5 C399.9,254.4 399.9,257.8 401.3,259.2 C402.7,260.6 404.6,260.8 406.4,260.9 C408.2,261.1 410.7,261.2 412.3,260.1 C413.9,258.9 415.5,256.8 416.2,254.2 C416.9,251.5 416.5,245.7 416.5,244.0" fill="none" stroke="#ececec" stroke-width="1.0" opacity="0.9"/><path d="M425.0,277.8 C423.6,278.8 418.9,281.4 416.5,283.8 C414.1,286.2 411.2,289.6 410.6,292.2 C410.0,294.9 411.0,298.0 412.8,299.8 C414.6,301.7 420.1,302.9 421.6,303.6" fill="none" stroke="#ececec" stroke-width="0.9" opacity="0.9"/><path d="M338.7,308.3 C340.1,309.3 343.8,312.4 347.2,314.2 C350.5,316.1 355.3,317.9 359.0,319.3 C362.7,320.7 366.3,320.7 369.2,322.7 C372.0,324.6 374.8,329.6 375.9,331.0" fill="none" stroke="#ececec" stroke-width="1.1" opacity="0.9"/><path d="M340.4,311.7 C341.8,312.8 346.3,316.5 348.8,318.5 C351.4,320.4 354.5,322.7 355.6,323.5" fill="none" stroke="#ececec" stroke-width="0.9" opacity="0.9"/><path d="M352.2,269.4 C353.1,270.5 355.6,274.6 357.3,276.2 C359.0,277.7 361.5,278.3 362.4,278.7" fill="none" stroke="#ececec" stroke-width="0.8" opacity="0.9"/><ellipse cx="362.4" cy="279.5" rx="1.8" ry="1.2" fill="#d0c8c8" opacity="0.85"/><ellipse cx="375.1" cy="304.6" rx="1.4" ry="2.0" fill="#d0c8c8" opacity="0.85"/><ellipse cx="353.9" cy="293.4" rx="1.2" ry="0.8" fill="#d0c8c8" opacity="0.85"/><ellipse cx="422.5" cy="304.1" rx="0.8" ry="1.4" fill="#d0c8c8" opacity="0.85"/><ellipse cx="410.6" cy="254.5" rx="1.0" ry="1.6" fill="#d0c8c8" opacity="0.85"/><text x="385.2315112540193" y="286.4621424944999" font-size="8.5" font-weight="bold" fill="#fff" text-anchor="middle">L</text><rect x="395.3" y="328.5" width="25.599999999999966" height="1.6" fill="#fff"/><text x="408" y="326" font-size="5.6" fill="#fff" text-anchor="middle">250 μm</text></g>
<clipPath id="cD2"><rect x="426.6" y="244.5" width="86.2" height="86.3"/></clipPath><g clip-path="url(#cD2)"><rect x="426.6" y="244.5" width="86.2" height="86.3" fill="#0a0505"/><path d="M445.7,271.1 C447.9,268.6 451.2,264.5 454.9,261.9 C458.5,259.3 464.0,256.6 467.7,255.5 C471.3,254.5 474.4,254.8 476.8,255.5 C479.2,256.3 481.7,258.6 482.3,260.1 C482.9,261.6 482.9,263.4 480.5,264.7 C478.0,265.9 471.3,266.3 467.7,267.4 C464.0,268.5 460.8,269.5 458.5,271.1 C456.3,272.6 454.9,274.4 454.0,276.5 C453.1,278.7 452.3,280.8 453.1,283.8 C453.8,286.9 456.1,291.5 458.5,294.8 C461.0,298.2 464.6,301.2 467.7,303.9 C470.7,306.7 475.0,309.1 476.8,311.2 C478.6,313.4 479.5,315.7 478.6,316.7 C477.7,317.8 474.7,318.4 471.3,317.6 C468.0,316.9 462.8,314.4 458.5,312.2 C454.3,309.9 449.4,306.8 445.7,303.9 C442.1,301.0 438.7,297.5 436.6,294.8 C434.5,292.1 433.3,289.9 433.0,287.5 C432.7,285.1 433.3,282.0 434.8,280.2 C436.3,278.4 440.3,278.1 442.1,276.5 C443.9,275.0 443.6,273.5 445.7,271.1Z" fill="#b81414" opacity="0.8" filter="url(#bl2)"/><path d="M491.4,270.1 C492.8,269.2 496.0,268.2 498.7,267.4 C501.5,266.6 505.4,266.7 507.9,265.2 C510.3,263.7 512.3,256.4 513.3,258.3 C514.4,260.2 515.8,273.7 514.3,276.5 C512.7,279.3 507.4,275.1 504.2,275.1 C501.0,275.0 497.4,276.5 495.1,276.2 C492.8,275.9 491.1,274.3 490.5,273.2 C489.9,272.2 490.0,271.1 491.4,270.1Z" fill="#b81414" opacity="0.75" filter="url(#bl2)"/><ellipse cx="433.0" cy="325.9" rx="8" ry="5" fill="#901010" opacity="0.6" filter="url(#bl2)"/><ellipse cx="495.1" cy="251.0" rx="10" ry="6" fill="#400808" opacity="0.5" filter="url(#bl2)"/><rect x="426.6" y="244.5" width="86.2" height="86.3" filter="url(#spRd)" opacity="0.8"/><path d="M445.7,271.1 C447.9,268.6 451.2,264.5 454.9,261.9 C458.5,259.3 464.0,256.6 467.7,255.5 C471.3,254.5 474.4,254.8 476.8,255.5 C479.2,256.3 481.7,258.6 482.3,260.1 C482.9,261.6 482.9,263.4 480.5,264.7 C478.0,265.9 471.3,266.3 467.7,267.4 C464.0,268.5 460.8,269.5 458.5,271.1 C456.3,272.6 454.9,274.4 454.0,276.5 C453.1,278.7 452.3,280.8 453.1,283.8 C453.8,286.9 456.1,291.5 458.5,294.8 C461.0,298.2 464.6,301.2 467.7,303.9 C470.7,306.7 475.0,309.1 476.8,311.2 C478.6,313.4 479.5,315.7 478.6,316.7 C477.7,317.8 474.7,318.4 471.3,317.6 C468.0,316.9 462.8,314.4 458.5,312.2 C454.3,309.9 449.4,306.8 445.7,303.9 C442.1,301.0 438.7,297.5 436.6,294.8 C434.5,292.1 433.3,289.9 433.0,287.5 C432.7,285.1 433.3,282.0 434.8,280.2 C436.3,278.4 440.3,278.1 442.1,276.5 C443.9,275.0 443.6,273.5 445.7,271.1Z" fill="none" stroke="#f0d020" stroke-width="1" stroke-dasharray="2.2,1.3"/><path d="M491.4,270.1 C492.8,269.2 496.0,268.2 498.7,267.4 C501.5,266.6 505.4,266.7 507.9,265.2 C510.3,263.7 512.3,256.4 513.3,258.3 C514.4,260.2 515.8,273.7 514.3,276.5 C512.7,279.3 507.4,275.1 504.2,275.1 C501.0,275.0 497.4,276.5 495.1,276.2 C492.8,275.9 491.1,274.3 490.5,273.2 C489.9,272.2 490.0,271.1 491.4,270.1Z" fill="none" stroke="#f0d020" stroke-width="1" stroke-dasharray="2.2,1.3"/><path d="M463.1,279.3 C464.3,277.3 467.0,275.0 469.9,274.3 C472.8,273.6 477.8,273.9 480.5,275.1 C483.1,276.3 485.2,279.0 485.9,281.7 C486.7,284.3 486.5,289.0 485.0,291.2 C483.5,293.3 479.7,294.4 476.8,294.8 C473.9,295.2 470.0,294.8 467.7,293.3 C465.3,291.9 463.3,288.4 462.6,286.0 C461.8,283.7 461.9,281.2 463.1,279.3Z" fill="none" stroke="#f0d020" stroke-width="1.2"/><line x1="455.8" y1="307.6" x2="497.8" y2="273.8" stroke="#3fb6e8" stroke-width="0.9"/><text x="474.06430398246255" y="288.5050785531604" font-size="8.5" font-weight="bold" fill="#fff" text-anchor="middle">L</text><rect x="482.3" y="328.5" width="27.399999999999977" height="1.6" fill="#fff"/><text x="496" y="326" font-size="5.6" fill="#fff" text-anchor="middle">250 μm</text></g>
<line x1="419.3" y1="41.3" x2="419.3" y2="148.29999999999998" stroke="#3a3a3a" stroke-width="1.1"/>
<line x1="418.8" y1="147.7" x2="486.5" y2="147.7" stroke="#3a3a3a" stroke-width="1.1"/>
<line x1="416.7" y1="147.70" x2="419.3" y2="147.70" stroke="#3a3a3a" stroke-width="1"/>
<text x="414.1" y="150.8" font-size="8.6" fill="#333" text-anchor="end" class="c">0</text>
<line x1="416.7" y1="121.50" x2="419.3" y2="121.50" stroke="#3a3a3a" stroke-width="1"/>
<text x="414.1" y="124.6" font-size="8.6" fill="#333" text-anchor="end" class="c">20</text>
<line x1="416.7" y1="95.30" x2="419.3" y2="95.30" stroke="#3a3a3a" stroke-width="1"/>
<text x="414.1" y="98.4" font-size="8.6" fill="#333" text-anchor="end" class="c">40</text>
<line x1="416.7" y1="69.10" x2="419.3" y2="69.10" stroke="#3a3a3a" stroke-width="1"/>
<text x="414.1" y="72.2" font-size="8.6" fill="#333" text-anchor="end" class="c">60</text>
<line x1="416.7" y1="42.90" x2="419.3" y2="42.90" stroke="#3a3a3a" stroke-width="1"/>
<text x="414.1" y="46.0" font-size="8.6" fill="#333" text-anchor="end" class="c">80</text>
<line x1="439.6" y1="147.7" x2="439.6" y2="150.2" stroke="#3a3a3a" stroke-width="1"/>
<line x1="467.7" y1="147.7" x2="467.7" y2="150.2" stroke="#3a3a3a" stroke-width="1"/>
<text transform="translate(397.6,93.8) rotate(-90)" font-size="8.6" fill="#333" text-anchor="middle" textLength="74.8" lengthAdjust="spacingAndGlyphs" class="c">Hypoxyprobe/cb (%)</text>
<path d="M439.8,52.4 V57 M439.8,54.6 H467.7 M467.7,52.4 V57" stroke="#3a3a3a" stroke-width="0.9" fill="none"/>
<text x="454" y="49.2" font-size="6.2" font-style="italic" fill="#333" text-anchor="middle">0.0173</text>
<line x1="431" y1="145.2" x2="447" y2="145.2" stroke="#555" stroke-width="0.9"/>
<circle cx="433.1" cy="140.6" r="2.7" fill="#c8102e"/>
<circle cx="439" cy="138.8" r="2.7" fill="#c8102e"/>
<circle cx="435.6" cy="146.2" r="2.7" fill="#c8102e"/>
<circle cx="439.4" cy="146.6" r="2.7" fill="#c8102e"/>
<circle cx="443.8" cy="146.2" r="2.7" fill="#c8102e"/>
<circle cx="441.4" cy="146.8" r="2.7" fill="#c8102e"/>
<path d="M467.7,89.6 V146 M464.4,89.6 H471 M464.4,146 H471" stroke="#6b93c0" stroke-width="1" fill="none"/>
<line x1="459.2" y1="117.9" x2="476.5" y2="117.9" stroke="#3b4a5c" stroke-width="1"/>
<circle cx="467.7" cy="71.3" r="2.8" fill="#1d4e89"/>
<circle cx="467.7" cy="114.6" r="2.8" fill="#1d4e89"/>
<circle cx="467.7" cy="124.6" r="2.8" fill="#1d4e89"/>
<circle cx="470.8" cy="135.8" r="2.8" fill="#1d4e89"/>
<circle cx="464" cy="141.2" r="2.8" fill="#1d4e89"/>
<text transform="translate(441.4,153.4) rotate(-45)" font-size="8.6" fill="#333" text-anchor="end" textLength="40.0" lengthAdjust="spacingAndGlyphs" class="c">Wild-type</text>
<text transform="translate(471.2,155.3) rotate(-45)" font-size="8.6" fill="#333" text-anchor="end" textLength="53.0" lengthAdjust="spacingAndGlyphs" class="c">Ccm3-iECKO</text>
<line x1="356.3" y1="434.70" x2="512.6" y2="434.70" stroke="#d6d6d6" stroke-width="0.7"/>
<line x1="356.3" y1="417.20" x2="512.6" y2="417.20" stroke="#d6d6d6" stroke-width="0.7"/>
<line x1="356.3" y1="399.70" x2="512.6" y2="399.70" stroke="#d6d6d6" stroke-width="0.7"/>
<line x1="356.3" y1="382.20" x2="512.6" y2="382.20" stroke="#d6d6d6" stroke-width="0.7"/>
<line x1="356.3" y1="364.70" x2="512.6" y2="364.70" stroke="#d6d6d6" stroke-width="0.7"/>
<line x1="397.65" y1="363.6" x2="397.65" y2="452.2" stroke="#d6d6d6" stroke-width="0.7"/>
<line x1="439.50" y1="363.6" x2="439.50" y2="452.2" stroke="#d6d6d6" stroke-width="0.7"/>
<line x1="481.35" y1="363.6" x2="481.35" y2="452.2" stroke="#d6d6d6" stroke-width="0.7"/>
<path d="M355.80,384.86 L356.18,378.01 L356.55,365.40 L356.93,370.55 L357.31,370.47 L357.68,372.45 L358.06,384.50 L358.44,380.34 L358.81,378.39 L359.19,375.57 L359.57,389.76 L359.94,386.01 L360.32,390.22 L360.70,376.13 L361.07,378.41 L361.45,391.18 L361.83,373.14 L362.20,374.36 L362.58,381.18 L362.96,382.72 L363.33,392.13 L363.71,396.89 L364.09,389.92 L364.46,400.30 L364.84,400.26 L365.22,403.40 L365.59,411.80 L365.97,411.42 L366.35,415.91 L366.72,410.08 L367.10,412.88 L367.48,410.32 L367.85,408.69 L368.23,402.71 L368.61,401.97 L368.98,401.46 L369.36,386.55 L369.74,383.06 L370.11,384.11 L370.49,390.87 L370.87,401.43 L371.24,406.70 L371.62,409.37 L372.00,415.68 L372.37,410.62 L372.75,416.82 L373.13,412.09 L373.50,417.75 L373.88,411.68 L374.26,413.55 L374.63,424.72 L375.01,424.32 L375.39,419.33 L375.76,425.57 L376.14,421.97 L376.52,427.74 L376.89,431.09 L377.27,424.77 L377.65,417.81 L378.02,418.13 L378.40,415.52 L378.78,415.88 L379.15,412.39 L379.53,418.58 L379.91,427.71 L380.28,428.75 L380.66,432.24 L381.04,433.88 L381.41,427.45 L381.79,432.06 L382.17,428.43 L382.54,428.90 L382.92,431.46 L383.30,427.47 L383.67,432.92 L384.05,429.29 L384.43,433.99 L384.80,432.11 L385.18,434.08 L385.56,433.54 L385.93,428.03 L386.31,429.21 L386.69,432.98 L387.06,428.35 L387.44,433.51 L387.82,432.46 L388.19,429.75 L388.57,432.17 L388.95,436.86 L389.32,431.35 L389.70,437.36 L390.08,437.64 L390.45,434.88 L390.83,438.38 L391.21,438.89 L391.58,440.44 L391.96,440.47 L392.34,437.57 L392.71,439.87 L393.09,438.07 L393.47,439.84 L393.84,439.74 L394.22,437.22 L394.59,440.47 L394.97,440.52 L395.35,439.51 L395.72,443.69 L396.10,444.33 L396.48,440.99 L396.85,441.95 L397.23,445.17 L397.61,445.89 L397.98,443.74 L398.36,443.24 L398.74,446.92 L399.11,444.04 L399.49,444.74 L399.87,446.26 L400.24,447.26 L400.62,448.77 L401.00,449.26 L401.37,445.90 L401.75,448.94 L402.13,447.25 L402.50,448.98 L402.88,446.86 L403.26,447.75 L403.63,448.93 L404.01,449.40 L404.39,447.39 L404.76,449.86 L405.14,449.29 L405.52,448.09 L405.89,447.03 L406.27,447.93 L406.65,449.17 L407.02,446.81 L407.40,449.47 L407.78,450.17 L408.15,449.23 L408.53,448.58 L408.91,450.01 L409.28,449.59 L409.66,448.88 L410.04,448.12 L410.41,449.76 L410.79,448.91 L411.17,446.95 L411.54,446.63 L411.92,447.83 L412.30,447.71 L412.67,448.11 L413.05,449.76 L413.43,450.15 L413.80,450.22 L414.18,446.92 L414.56,447.70 L414.93,446.73 L415.31,450.22 L415.69,447.95 L416.06,448.52 L416.44,447.61 L416.82,449.13 L417.19,446.62 L417.57,450.04 L417.95,448.30 L418.32,447.60 L418.70,447.00 L419.08,447.61 L419.45,447.74 L419.83,447.41 L420.21,446.97 L420.58,449.05 L420.96,447.82 L421.34,447.03 L421.71,447.15 L422.09,448.82 L422.47,447.45 L422.84,447.19 L423.22,448.26 L423.60,448.07 L423.97,448.97 L424.35,448.24 L424.73,448.15 L425.10,450.09 L425.48,448.04 L425.86,446.74 L426.23,447.17 L426.61,447.73 L426.99,448.98 L427.36,447.71 L427.74,448.28 L428.12,448.80 L428.49,447.34 L428.87,450.12 L429.25,447.68 L429.62,450.32 L430.00,448.23 L430.38,448.67 L430.75,449.60 L431.13,447.89 L431.51,448.63 L431.88,448.20 L432.26,447.09 L432.64,449.52 L433.01,450.42 L433.39,449.36 L433.77,447.99 L434.14,449.73 L434.52,449.85 L434.90,447.17 L435.27,448.07 L435.65,448.87 L436.03,447.23 L436.40,449.30 L436.78,448.07 L437.16,449.77 L437.53,448.93 L437.91,447.57 L438.29,447.18 L438.66,447.31 L439.04,449.12 L439.42,448.40 L439.79,449.37 L440.17,450.02 L440.55,448.71 L440.92,447.47 L441.30,447.43 L441.68,447.93 L442.05,447.06 L442.43,449.51 L442.81,449.90 L443.18,448.88 L443.56,449.52 L443.94,449.74 L444.31,449.01 L444.69,448.24 L445.07,448.72 L445.44,449.37 L445.82,447.47 L446.20,446.95 L446.57,448.87 L446.95,450.25 L447.33,450.41 L447.70,447.34 L448.08,450.37 L448.46,447.94 L448.83,448.44 L449.21,449.40 L449.59,447.64 L449.96,450.45 L450.34,450.03 L450.72,448.86 L451.09,450.43 L451.47,447.50 L451.85,449.66 L452.22,450.01 L452.60,450.35 L452.98,448.23 L453.35,448.89 L453.73,448.23 L454.11,448.14 L454.48,447.58 L454.86,447.03 L455.24,448.03 L455.61,449.79 L455.99,448.79 L456.37,449.87 L456.74,450.48 L457.12,448.80 L457.50,447.92 L457.87,449.87 L458.25,449.53 L458.63,449.26 L459.00,447.98 L459.38,448.63 L459.76,448.28 L460.13,447.77 L460.51,449.09 L460.89,447.64 L461.26,447.22 L461.64,450.20 L462.02,447.13 L462.39,447.89 L462.77,450.05 L463.15,448.87 L463.52,448.24 L463.90,447.21 L464.28,449.15 L464.65,448.45 L465.03,447.32 L465.41,447.62 L465.78,447.08 L466.16,448.83 L466.54,448.15 L466.91,449.77 L467.29,447.89 L467.67,447.54 L468.04,448.18 L468.42,447.91 L468.80,449.74 L469.17,447.24 L469.55,446.95 L469.92,446.96 L470.30,448.57 L470.68,447.64 L471.05,449.35 L471.43,447.21 L471.81,447.40 L472.18,449.25 L472.56,450.22 L472.94,448.92 L473.31,448.52 L473.69,447.72 L474.07,448.75 L474.44,450.42 L474.82,447.57 L475.20,450.29 L475.57,447.61 L475.95,449.89 L476.33,449.30 L476.70,447.65 L477.08,450.01 L477.46,449.98 L477.83,448.64 L478.21,447.89 L478.59,447.46 L478.96,448.01 L479.34,447.08 L479.72,448.73 L480.09,447.07 L480.47,450.21 L480.85,449.71 L481.22,448.60 L481.60,449.36 L481.98,447.59 L482.35,447.76 L482.73,448.04 L483.11,446.65 L483.48,447.58 L483.86,448.38 L484.24,447.96 L484.61,445.97 L484.99,445.35 L485.37,447.77 L485.74,444.64 L486.12,443.67 L486.50,445.19 L486.87,444.54 L487.25,445.82 L487.63,443.57 L488.00,443.04 L488.38,441.83 L488.76,444.21 L489.13,438.44 L489.51,440.24 L489.89,440.22 L490.26,437.16 L490.64,437.90 L491.02,437.66 L491.39,435.68 L491.77,439.11 L492.15,435.29 L492.52,435.83 L492.90,431.86 L493.28,431.86 L493.65,436.23 L494.03,434.59 L494.41,436.84 L494.78,434.32 L495.16,430.04 L495.54,427.85 L495.91,429.78 L496.29,429.74 L496.67,428.92 L497.04,422.63 L497.42,417.07 L497.80,423.02 L498.17,413.33 L498.55,419.14 L498.93,414.14 L499.30,410.77 L499.68,401.21 L500.06,402.27 L500.43,397.20 L500.81,387.95 L501.19,392.80 L501.56,378.04 L501.94,390.87 L502.32,384.45 L502.69,390.38 L503.07,395.27 L503.45,393.59 L503.82,399.29 L504.20,398.22 L504.58,392.47 L504.95,385.15 L505.33,393.21 L505.71,405.55 L506.08,411.64 L506.46,407.21 L506.84,404.41 L507.21,395.30 L507.59,390.85 L507.97,376.98 L508.34,380.62 L508.72,363.78 L509.10,363.30 L509.47,363.30 L509.85,369.19 L510.23,370.22 L510.60,363.30 L510.98,374.45 L511.36,363.30 L511.73,373.58 L512.11,395.23 L512.49,398.46 L512.86,393.63" stroke="#1a1a1a" stroke-width="0.6" fill="none" stroke-linejoin="round"/>
<rect x="356.3" y="363.6" width="156.3" height="88.59999999999997" fill="none" stroke="#444" stroke-width="0.8"/>
<path d="M359.99,452.2 v-1.3 M359.99,363.6 v1.3 M364.17,452.2 v-1.3 M364.17,363.6 v1.3 M368.36,452.2 v-1.3 M368.36,363.6 v1.3 M372.54,452.2 v-1.3 M372.54,363.6 v1.3 M376.73,452.2 v-1.3 M376.73,363.6 v1.3 M380.91,452.2 v-1.3 M380.91,363.6 v1.3 M385.10,452.2 v-1.3 M385.10,363.6 v1.3 M389.28,452.2 v-1.3 M389.28,363.6 v1.3 M393.47,452.2 v-1.3 M393.47,363.6 v1.3 M397.65,452.2 v-1.3 M397.65,363.6 v1.3 M401.84,452.2 v-1.3 M401.84,363.6 v1.3 M406.02,452.2 v-1.3 M406.02,363.6 v1.3 M410.21,452.2 v-1.3 M410.21,363.6 v1.3 M414.39,452.2 v-1.3 M414.39,363.6 v1.3 M418.57,452.2 v-1.3 M418.57,363.6 v1.3 M422.76,452.2 v-1.3 M422.76,363.6 v1.3 M426.94,452.2 v-1.3 M426.94,363.6 v1.3 M431.13,452.2 v-1.3 M431.13,363.6 v1.3 M435.31,452.2 v-1.3 M435.31,363.6 v1.3 M439.50,452.2 v-1.3 M439.50,363.6 v1.3 M443.69,452.2 v-1.3 M443.69,363.6 v1.3 M447.87,452.2 v-1.3 M447.87,363.6 v1.3 M452.06,452.2 v-1.3 M452.06,363.6 v1.3 M456.24,452.2 v-1.3 M456.24,363.6 v1.3 M460.43,452.2 v-1.3 M460.43,363.6 v1.3 M464.61,452.2 v-1.3 M464.61,363.6 v1.3 M468.80,452.2 v-1.3 M468.80,363.6 v1.3 M472.98,452.2 v-1.3 M472.98,363.6 v1.3 M477.17,452.2 v-1.3 M477.17,363.6 v1.3 M481.35,452.2 v-1.3 M481.35,363.6 v1.3 M485.53,452.2 v-1.3 M485.53,363.6 v1.3 M489.72,452.2 v-1.3 M489.72,363.6 v1.3 M493.90,452.2 v-1.3 M493.90,363.6 v1.3 M498.09,452.2 v-1.3 M498.09,363.6 v1.3 M502.27,452.2 v-1.3 M502.27,363.6 v1.3 M506.46,452.2 v-1.3 M506.46,363.6 v1.3 M510.64,452.2 v-1.3 M510.64,363.6 v1.3 M356.3,452.20 h1.3 M512.6,452.20 h-1.3 M356.3,448.70 h1.3 M512.6,448.70 h-1.3 M356.3,445.20 h1.3 M512.6,445.20 h-1.3 M356.3,441.70 h1.3 M512.6,441.70 h-1.3 M356.3,438.20 h1.3 M512.6,438.20 h-1.3 M356.3,434.70 h1.3 M512.6,434.70 h-1.3 M356.3,431.20 h1.3 M512.6,431.20 h-1.3 M356.3,427.70 h1.3 M512.6,427.70 h-1.3 M356.3,424.20 h1.3 M512.6,424.20 h-1.3 M356.3,420.70 h1.3 M512.6,420.70 h-1.3 M356.3,417.20 h1.3 M512.6,417.20 h-1.3 M356.3,413.70 h1.3 M512.6,413.70 h-1.3 M356.3,410.20 h1.3 M512.6,410.20 h-1.3 M356.3,406.70 h1.3 M512.6,406.70 h-1.3 M356.3,403.20 h1.3 M512.6,403.20 h-1.3 M356.3,399.70 h1.3 M512.6,399.70 h-1.3 M356.3,396.20 h1.3 M512.6,396.20 h-1.3 M356.3,392.70 h1.3 M512.6,392.70 h-1.3 M356.3,389.20 h1.3 M512.6,389.20 h-1.3 M356.3,385.70 h1.3 M512.6,385.70 h-1.3 M356.3,382.20 h1.3 M512.6,382.20 h-1.3 M356.3,378.70 h1.3 M512.6,378.70 h-1.3 M356.3,375.20 h1.3 M512.6,375.20 h-1.3 M356.3,371.70 h1.3 M512.6,371.70 h-1.3 M356.3,368.20 h1.3 M512.6,368.20 h-1.3 M356.3,364.70 h1.3 M512.6,364.70 h-1.3" stroke="#444" stroke-width="0.6" fill="none"/>
<text x="354.3" y="437.9" font-size="9" fill="#333" text-anchor="end" textLength="9.4" lengthAdjust="spacingAndGlyphs" class="c">50</text>
<text x="354.3" y="420.4" font-size="9" fill="#333" text-anchor="end" textLength="14.2" lengthAdjust="spacingAndGlyphs" class="c">100</text>
<text x="354.3" y="402.9" font-size="9" fill="#333" text-anchor="end" textLength="14.2" lengthAdjust="spacingAndGlyphs" class="c">150</text>
<text x="354.3" y="385.4" font-size="9" fill="#333" text-anchor="end" textLength="14.2" lengthAdjust="spacingAndGlyphs" class="c">200</text>
<text x="354.3" y="367.9" font-size="9" fill="#333" text-anchor="end" textLength="14.2" lengthAdjust="spacingAndGlyphs" class="c">250</text>
<text x="397.65" y="463.2" font-size="9" fill="#333" text-anchor="middle" textLength="14.2" lengthAdjust="spacingAndGlyphs" class="c">100</text>
<text x="439.5" y="463.2" font-size="9" fill="#333" text-anchor="middle" textLength="14.2" lengthAdjust="spacingAndGlyphs" class="c">200</text>
<text x="481.35" y="463.2" font-size="9" fill="#333" text-anchor="middle" textLength="14.2" lengthAdjust="spacingAndGlyphs" class="c">300</text>
<text transform="translate(334.4,397.8) rotate(-90)" font-size="9" fill="#333" text-anchor="middle" textLength="38.2" lengthAdjust="spacingAndGlyphs" class="c">Gray value</text>
<text x="437.6" y="474" font-size="9" fill="#333" text-anchor="middle" textLength="51.4" lengthAdjust="spacingAndGlyphs" class="c">Distance (μm)</text>
<line x1="28.3" y1="515.56" x2="28.3" y2="588.12" stroke="#333" stroke-width="1.1"/>
<line x1="27.8" y1="587.62" x2="121.38" y2="587.62" stroke="#333" stroke-width="1.1"/>
<line x1="25.3" y1="575.20" x2="28.3" y2="575.20" stroke="#333" stroke-width="0.9"/>
<text x="21.7" y="577.5" font-size="7.9" fill="#333" text-anchor="end" class="c">1</text>
<line x1="25.3" y1="550.35" x2="28.3" y2="550.35" stroke="#333" stroke-width="0.9"/>
<text x="21.7" y="552.65" font-size="7.9" fill="#333" text-anchor="end" class="c">2</text>
<line x1="25.3" y1="525.50" x2="28.3" y2="525.50" stroke="#333" stroke-width="0.9"/>
<text x="21.7" y="527.8" font-size="7.9" fill="#333" text-anchor="end" class="c">3</text>
<line x1="28.30" y1="587.62" x2="28.30" y2="590.23" stroke="#333" stroke-width="0.9"/>
<text x="28.3" y="601.12" font-size="8.4" fill="#333" text-anchor="middle" class="c">0</text>
<line x1="46.20" y1="587.62" x2="46.20" y2="590.23" stroke="#333" stroke-width="0.9"/>
<text x="46.2" y="601.12" font-size="8.4" fill="#333" text-anchor="middle" class="c">20</text>
<line x1="64.10" y1="587.62" x2="64.10" y2="590.23" stroke="#333" stroke-width="0.9"/>
<text x="64.1" y="601.12" font-size="8.4" fill="#333" text-anchor="middle" class="c">40</text>
<line x1="82.00" y1="587.62" x2="82.00" y2="590.23" stroke="#333" stroke-width="0.9"/>
<text x="82.0" y="601.12" font-size="8.4" fill="#333" text-anchor="middle" class="c">60</text>
<line x1="99.90" y1="587.62" x2="99.90" y2="590.23" stroke="#333" stroke-width="0.9"/>
<text x="99.9" y="601.12" font-size="8.4" fill="#333" text-anchor="middle" class="c">80</text>
<line x1="117.80" y1="587.62" x2="117.80" y2="590.23" stroke="#333" stroke-width="0.9"/>
<text x="117.8" y="601.12" font-size="8.4" fill="#333" text-anchor="middle" class="c">100</text>
<text transform="translate(12.1,550.35) rotate(-90)" font-size="8.4" fill="#333" text-anchor="middle" class="c">AU</text>
<text x="73.85" y="613.33" font-size="9" fill="#333" text-anchor="middle" textLength="87.6" lengthAdjust="spacingAndGlyphs" class="c">Distance from lesions (<tspan font-style="italic">μ</tspan>m)</text>
<line x1="29.3" y1="575.20" x2="117.80" y2="575.20" stroke="#111" stroke-width="1" stroke-dasharray="2.2,1.7"/>
<path d="M48.44,565.26 V562.28 M46.64,562.28 H50.24 M55.15,563.27 V560.79 M53.35,560.79 H56.95 M61.86,560.79 V557.81 M60.06,557.81 H63.66 M68.58,559.05 V556.07 M66.78,556.07 H70.38 M75.29,557.31 V554.08 M73.49,554.08 H77.09 M82.00,555.82 V552.34 M80.20,552.34 H83.80 M88.71,554.82 V551.59 M86.91,551.59 H90.51 M95.42,554.08 V551.10 M93.62,551.10 H97.22 M102.14,554.08 V551.10 M100.34,551.10 H103.94 M108.85,554.57 V551.59 M107.05,551.59 H110.65 M115.56,554.82 V551.84 M113.76,551.84 H117.36" stroke="#333" stroke-width="0.9" fill="none"/>
<path d="M28.30,572.72 C29.42,572.38 32.78,571.43 35.01,570.73 C37.25,570.02 39.49,569.40 41.73,568.49 C43.96,567.58 46.20,566.13 48.44,565.26 C50.67,564.39 52.91,564.02 55.15,563.27 C57.39,562.53 59.62,561.49 61.86,560.79 C64.10,560.08 66.34,559.63 68.58,559.05 C70.81,558.47 73.05,557.85 75.29,557.31 C77.53,556.77 79.76,556.23 82.00,555.82 C84.24,555.40 86.48,555.11 88.71,554.82 C90.95,554.53 93.19,554.20 95.42,554.08 C97.66,553.95 99.90,553.99 102.14,554.08 C104.38,554.16 106.61,554.45 108.85,554.57 C111.09,554.70 114.44,554.78 115.56,554.82" stroke="#c4193d" stroke-width="1.3" fill="none"/>
<circle cx="28.30" cy="572.72" r="1.1" fill="#c4193d"/>
<circle cx="35.01" cy="570.73" r="1.1" fill="#c4193d"/>
<circle cx="41.73" cy="568.49" r="1.1" fill="#c4193d"/>
<circle cx="48.44" cy="565.26" r="1.1" fill="#c4193d"/>
<circle cx="55.15" cy="563.27" r="1.1" fill="#c4193d"/>
<circle cx="61.86" cy="560.79" r="1.1" fill="#c4193d"/>
<circle cx="68.58" cy="559.05" r="1.1" fill="#c4193d"/>
<circle cx="75.29" cy="557.31" r="1.1" fill="#c4193d"/>
<circle cx="82.00" cy="555.82" r="1.1" fill="#c4193d"/>
<circle cx="88.71" cy="554.82" r="1.1" fill="#c4193d"/>
<circle cx="95.42" cy="554.08" r="1.1" fill="#c4193d"/>
<circle cx="102.14" cy="554.08" r="1.1" fill="#c4193d"/>
<circle cx="108.85" cy="554.57" r="1.1" fill="#c4193d"/>
<circle cx="115.56" cy="554.82" r="1.1" fill="#c4193d"/>
<line x1="66" y1="522" x2="77.5" y2="522" stroke="#c4193d" stroke-width="1.1"/>
<circle cx="71.75" cy="522" r="1.1" fill="#c4193d"/>
<text x="81" y="524.3" font-size="6.3" fill="#333" class="c">all size (262)</text>
<text x="73.2" y="506.9" font-size="7.8" fill="#333" text-anchor="middle" textLength="90.6" lengthAdjust="spacingAndGlyphs" class="c">Hypoxia vs Lesion distance</text>
<text x="264.4" y="507.2" font-size="7.8" fill="#333" text-anchor="middle" textLength="90.0" lengthAdjust="spacingAndGlyphs" class="c">Hypoxia vs Lesion distance</text>
<line x1="164.3" y1="515.46" x2="164.3" y2="588.02" stroke="#333" stroke-width="1.1"/>
<line x1="163.8" y1="587.52" x2="257.38" y2="587.52" stroke="#333" stroke-width="1.1"/>
<line x1="161.3" y1="575.10" x2="164.3" y2="575.10" stroke="#333" stroke-width="0.9"/>
<text x="157.7" y="577.4" font-size="7.9" fill="#333" text-anchor="end" class="c">1</text>
<line x1="161.3" y1="550.25" x2="164.3" y2="550.25" stroke="#333" stroke-width="0.9"/>
<text x="157.7" y="552.55" font-size="7.9" fill="#333" text-anchor="end" class="c">2</text>
<line x1="161.3" y1="525.40" x2="164.3" y2="525.40" stroke="#333" stroke-width="0.9"/>
<text x="157.7" y="527.7" font-size="7.9" fill="#333" text-anchor="end" class="c">3</text>
<line x1="164.30" y1="587.52" x2="164.30" y2="590.12" stroke="#333" stroke-width="0.9"/>
<text x="164.3" y="601.02" font-size="8.4" fill="#333" text-anchor="middle" class="c">0</text>
<line x1="182.20" y1="587.52" x2="182.20" y2="590.12" stroke="#333" stroke-width="0.9"/>
<text x="182.2" y="601.02" font-size="8.4" fill="#333" text-anchor="middle" class="c">20</text>
<line x1="200.10" y1="587.52" x2="200.10" y2="590.12" stroke="#333" stroke-width="0.9"/>
<text x="200.1" y="601.02" font-size="8.4" fill="#333" text-anchor="middle" class="c">40</text>
<line x1="218.00" y1="587.52" x2="218.00" y2="590.12" stroke="#333" stroke-width="0.9"/>
<text x="218.0" y="601.02" font-size="8.4" fill="#333" text-anchor="middle" class="c">60</text>
<line x1="235.90" y1="587.52" x2="235.90" y2="590.12" stroke="#333" stroke-width="0.9"/>
<text x="235.9" y="601.02" font-size="8.4" fill="#333" text-anchor="middle" class="c">80</text>
<line x1="253.80" y1="587.52" x2="253.80" y2="590.12" stroke="#333" stroke-width="0.9"/>
<text x="253.8" y="601.02" font-size="8.4" fill="#333" text-anchor="middle" class="c">100</text>
<text transform="translate(148.1,550.25) rotate(-90)" font-size="8.4" fill="#333" text-anchor="middle" class="c">AU</text>
<text x="209.85" y="613.23" font-size="9" fill="#333" text-anchor="middle" textLength="87.6" lengthAdjust="spacingAndGlyphs" class="c">Distance from lesions (<tspan font-style="italic">μ</tspan>m)</text>
<line x1="165.3" y1="575.10" x2="253.80" y2="575.10" stroke="#111" stroke-width="1" stroke-dasharray="2.2,1.7"/>
<path d="M184.44,566.65 V565.16 M182.64,565.16 H186.24 M191.15,566.15 V564.66 M189.35,564.66 H192.95 M197.86,565.66 V563.92 M196.06,563.92 H199.66 M204.58,564.66 V562.68 M202.78,562.68 H206.38 M211.29,564.17 V561.93 M209.49,561.93 H213.09 M218.00,564.17 V561.43 M216.20,561.43 H219.80 M224.71,563.17 V560.19 M222.91,560.19 H226.51 M231.43,563.17 V559.69 M229.62,559.69 H233.23 M238.14,563.67 V560.19 M236.34,560.19 H239.94 M244.85,563.67 V560.19 M243.05,560.19 H246.65 M251.56,563.42 V560.19 M249.76,560.19 H253.36" stroke="#333" stroke-width="0.9" fill="none"/>
<path d="M164.30,572.62 C165.42,572.20 168.78,570.63 171.01,570.13 C173.25,569.63 175.49,570.21 177.73,569.63 C179.96,569.05 182.20,567.23 184.44,566.65 C186.68,566.07 188.91,566.32 191.15,566.15 C193.39,565.99 195.62,565.91 197.86,565.66 C200.10,565.41 202.34,564.91 204.58,564.66 C206.81,564.41 209.05,564.25 211.29,564.17 C213.53,564.08 215.76,564.33 218.00,564.17 C220.24,564.00 222.47,563.34 224.71,563.17 C226.95,563.01 229.19,563.09 231.43,563.17 C233.66,563.25 235.90,563.59 238.14,563.67 C240.38,563.75 242.61,563.71 244.85,563.67 C247.09,563.63 250.44,563.46 251.56,563.42" stroke="#3b6593" stroke-width="1.3" fill="none"/>
<circle cx="164.30" cy="572.62" r="1.15" fill="#fff" stroke="#3b6593" stroke-width="0.6"/>
<circle cx="171.01" cy="570.13" r="1.15" fill="#fff" stroke="#3b6593" stroke-width="0.6"/>
<circle cx="177.73" cy="569.63" r="1.15" fill="#fff" stroke="#3b6593" stroke-width="0.6"/>
<circle cx="184.44" cy="566.65" r="1.15" fill="#fff" stroke="#3b6593" stroke-width="0.6"/>
<circle cx="191.15" cy="566.15" r="1.15" fill="#fff" stroke="#3b6593" stroke-width="0.6"/>
<circle cx="197.86" cy="565.66" r="1.15" fill="#fff" stroke="#3b6593" stroke-width="0.6"/>
<circle cx="204.58" cy="564.66" r="1.15" fill="#fff" stroke="#3b6593" stroke-width="0.6"/>
<circle cx="211.29" cy="564.17" r="1.15" fill="#fff" stroke="#3b6593" stroke-width="0.6"/>
<circle cx="218.00" cy="564.17" r="1.15" fill="#fff" stroke="#3b6593" stroke-width="0.6"/>
<circle cx="224.71" cy="563.17" r="1.15" fill="#fff" stroke="#3b6593" stroke-width="0.6"/>
<circle cx="231.43" cy="563.17" r="1.15" fill="#fff" stroke="#3b6593" stroke-width="0.6"/>
<circle cx="238.14" cy="563.67" r="1.15" fill="#fff" stroke="#3b6593" stroke-width="0.6"/>
<circle cx="244.85" cy="563.67" r="1.15" fill="#fff" stroke="#3b6593" stroke-width="0.6"/>
<circle cx="251.56" cy="563.42" r="1.15" fill="#fff" stroke="#3b6593" stroke-width="0.6"/>
<line x1="202.5" y1="522" x2="215" y2="522" stroke="#3b6593" stroke-width="1.1"/>
<circle cx="208.75" cy="522" r="1.15" fill="#fff" stroke="#3b6593" stroke-width="0.6"/>
<text x="217.5" y="524.3" font-size="6.3" fill="#333" class="c">&lt; 5000 (155)</text>
<text x="166.70" y="523.40" font-size="5.4" fill="#444">(i)</text>
<line x1="287.5" y1="515.46" x2="287.5" y2="588.02" stroke="#333" stroke-width="1.1"/>
<line x1="287.0" y1="587.52" x2="380.58" y2="587.52" stroke="#333" stroke-width="1.1"/>
<line x1="284.5" y1="575.10" x2="287.5" y2="575.10" stroke="#333" stroke-width="0.9"/>
<text x="280.9" y="577.4" font-size="7.9" fill="#333" text-anchor="end" class="c">1</text>
<line x1="284.5" y1="550.25" x2="287.5" y2="550.25" stroke="#333" stroke-width="0.9"/>
<text x="280.9" y="552.55" font-size="7.9" fill="#333" text-anchor="end" class="c">2</text>
<line x1="284.5" y1="525.40" x2="287.5" y2="525.40" stroke="#333" stroke-width="0.9"/>
<text x="280.9" y="527.7" font-size="7.9" fill="#333" text-anchor="end" class="c">3</text>
<line x1="287.50" y1="587.52" x2="287.50" y2="590.12" stroke="#333" stroke-width="0.9"/>
<text x="287.5" y="601.02" font-size="8.4" fill="#333" text-anchor="middle" class="c">0</text>
<line x1="305.40" y1="587.52" x2="305.40" y2="590.12" stroke="#333" stroke-width="0.9"/>
<text x="305.4" y="601.02" font-size="8.4" fill="#333" text-anchor="middle" class="c">20</text>
<line x1="323.30" y1="587.52" x2="323.30" y2="590.12" stroke="#333" stroke-width="0.9"/>
<text x="323.3" y="601.02" font-size="8.4" fill="#333" text-anchor="middle" class="c">40</text>
<line x1="341.20" y1="587.52" x2="341.20" y2="590.12" stroke="#333" stroke-width="0.9"/>
<text x="341.2" y="601.02" font-size="8.4" fill="#333" text-anchor="middle" class="c">60</text>
<line x1="359.10" y1="587.52" x2="359.10" y2="590.12" stroke="#333" stroke-width="0.9"/>
<text x="359.1" y="601.02" font-size="8.4" fill="#333" text-anchor="middle" class="c">80</text>
<line x1="377.00" y1="587.52" x2="377.00" y2="590.12" stroke="#333" stroke-width="0.9"/>
<text x="377.0" y="601.02" font-size="8.4" fill="#333" text-anchor="middle" class="c">100</text>
<text transform="translate(271.3,550.25) rotate(-90)" font-size="8.4" fill="#333" text-anchor="middle" class="c">AU</text>
<text x="333.05" y="613.23" font-size="9" fill="#333" text-anchor="middle" textLength="87.6" lengthAdjust="spacingAndGlyphs" class="c">Distance from lesions (<tspan font-style="italic">μ</tspan>m)</text>
<line x1="288.5" y1="575.10" x2="377.00" y2="575.10" stroke="#111" stroke-width="1" stroke-dasharray="2.2,1.7"/>
<path d="M294.21,572.62 V571.37 M292.41,571.37 H296.01 M300.93,570.63 V568.89 M299.12,568.89 H302.73 M307.64,565.66 V559.69 M305.84,559.69 H309.44 M314.35,565.16 V561.43 M312.55,561.43 H316.15 M321.06,561.43 V556.46 M319.26,556.46 H322.86 M327.77,556.46 V550.25 M325.97,550.25 H329.57 M334.49,552.74 V544.04 M332.69,544.04 H336.29 M341.20,550.25 V539.81 M339.40,539.81 H343.00 M347.91,547.76 V537.33 M346.11,537.33 H349.71 M354.62,546.52 V536.09 M352.82,536.09 H356.43 M361.34,546.52 V536.09 M359.54,536.09 H363.14 M368.05,546.52 V537.33 M366.25,537.33 H369.85 M374.76,546.52 V537.33 M372.96,537.33 H376.56" stroke="#333" stroke-width="0.9" fill="none"/>
<path d="M287.50,573.86 C288.62,573.65 291.97,573.15 294.21,572.62 C296.45,572.08 298.69,571.79 300.93,570.63 C303.16,569.47 305.40,566.57 307.64,565.66 C309.88,564.75 312.11,565.86 314.35,565.16 C316.59,564.46 318.82,562.88 321.06,561.43 C323.30,559.98 325.54,557.91 327.77,556.46 C330.01,555.01 332.25,553.77 334.49,552.74 C336.73,551.70 338.96,551.08 341.20,550.25 C343.44,549.42 345.68,548.39 347.91,547.76 C350.15,547.14 352.39,546.73 354.62,546.52 C356.86,546.32 359.10,546.52 361.34,546.52 C363.57,546.52 365.81,546.52 368.05,546.52 C370.29,546.52 373.64,546.52 374.76,546.52" stroke="#62b85a" stroke-width="1.3" fill="none"/>
<circle cx="287.50" cy="573.86" r="1.15" fill="#fff" stroke="#62b85a" stroke-width="0.6"/>
<circle cx="294.21" cy="572.62" r="1.15" fill="#fff" stroke="#62b85a" stroke-width="0.6"/>
<circle cx="300.93" cy="570.63" r="1.15" fill="#fff" stroke="#62b85a" stroke-width="0.6"/>
<circle cx="307.64" cy="565.66" r="1.15" fill="#fff" stroke="#62b85a" stroke-width="0.6"/>
<circle cx="314.35" cy="565.16" r="1.15" fill="#fff" stroke="#62b85a" stroke-width="0.6"/>
<circle cx="321.06" cy="561.43" r="1.15" fill="#fff" stroke="#62b85a" stroke-width="0.6"/>
<circle cx="327.77" cy="556.46" r="1.15" fill="#fff" stroke="#62b85a" stroke-width="0.6"/>
<circle cx="334.49" cy="552.74" r="1.15" fill="#fff" stroke="#62b85a" stroke-width="0.6"/>
<circle cx="341.20" cy="550.25" r="1.15" fill="#fff" stroke="#62b85a" stroke-width="0.6"/>
<circle cx="347.91" cy="547.76" r="1.15" fill="#fff" stroke="#62b85a" stroke-width="0.6"/>
<circle cx="354.62" cy="546.52" r="1.15" fill="#fff" stroke="#62b85a" stroke-width="0.6"/>
<circle cx="361.34" cy="546.52" r="1.15" fill="#fff" stroke="#62b85a" stroke-width="0.6"/>
<circle cx="368.05" cy="546.52" r="1.15" fill="#fff" stroke="#62b85a" stroke-width="0.6"/>
<circle cx="374.76" cy="546.52" r="1.15" fill="#fff" stroke="#62b85a" stroke-width="0.6"/>
<line x1="308.7" y1="522" x2="321.2" y2="522" stroke="#62b85a" stroke-width="1.1"/>
<circle cx="314.95" cy="522" r="1.15" fill="#fff" stroke="#62b85a" stroke-width="0.6"/>
<text x="323.7" y="524.3" font-size="6.3" fill="#333" class="c">5000 - 10000 (50)</text>
<text x="289.90" y="523.40" font-size="5.4" fill="#444">(ii)</text>
<line x1="164.3" y1="625.46" x2="164.3" y2="698.02" stroke="#333" stroke-width="1.1"/>
<line x1="163.8" y1="697.52" x2="257.38" y2="697.52" stroke="#333" stroke-width="1.1"/>
<line x1="161.3" y1="685.10" x2="164.3" y2="685.10" stroke="#333" stroke-width="0.9"/>
<text x="157.7" y="687.4" font-size="7.9" fill="#333" text-anchor="end" class="c">1</text>
<line x1="161.3" y1="660.25" x2="164.3" y2="660.25" stroke="#333" stroke-width="0.9"/>
<text x="157.7" y="662.55" font-size="7.9" fill="#333" text-anchor="end" class="c">2</text>
<line x1="161.3" y1="635.40" x2="164.3" y2="635.40" stroke="#333" stroke-width="0.9"/>
<text x="157.7" y="637.7" font-size="7.9" fill="#333" text-anchor="end" class="c">3</text>
<line x1="164.30" y1="697.52" x2="164.30" y2="700.12" stroke="#333" stroke-width="0.9"/>
<text x="164.3" y="711.02" font-size="8.4" fill="#333" text-anchor="middle" class="c">0</text>
<line x1="182.20" y1="697.52" x2="182.20" y2="700.12" stroke="#333" stroke-width="0.9"/>
<text x="182.2" y="711.02" font-size="8.4" fill="#333" text-anchor="middle" class="c">20</text>
<line x1="200.10" y1="697.52" x2="200.10" y2="700.12" stroke="#333" stroke-width="0.9"/>
<text x="200.1" y="711.02" font-size="8.4" fill="#333" text-anchor="middle" class="c">40</text>
<line x1="218.00" y1="697.52" x2="218.00" y2="700.12" stroke="#333" stroke-width="0.9"/>
<text x="218.0" y="711.02" font-size="8.4" fill="#333" text-anchor="middle" class="c">60</text>
<line x1="235.90" y1="697.52" x2="235.90" y2="700.12" stroke="#333" stroke-width="0.9"/>
<text x="235.9" y="711.02" font-size="8.4" fill="#333" text-anchor="middle" class="c">80</text>
<line x1="253.80" y1="697.52" x2="253.80" y2="700.12" stroke="#333" stroke-width="0.9"/>
<text x="253.8" y="711.02" font-size="8.4" fill="#333" text-anchor="middle" class="c">100</text>
<text transform="translate(148.1,660.25) rotate(-90)" font-size="8.4" fill="#333" text-anchor="middle" class="c">AU</text>
<text x="209.85" y="723.23" font-size="9" fill="#333" text-anchor="middle" textLength="87.6" lengthAdjust="spacingAndGlyphs" class="c">Distance from lesions (<tspan font-style="italic">μ</tspan>m)</text>
<line x1="165.3" y1="685.10" x2="253.80" y2="685.10" stroke="#111" stroke-width="1" stroke-dasharray="2.2,1.7"/>
<path d="M164.30,681.37 V678.89 M162.50,678.89 H166.10 M171.01,678.89 V675.66 M169.21,675.66 H172.81 M177.73,675.66 V670.19 M175.93,670.19 H179.53 M184.44,670.19 V662.74 M182.64,662.74 H186.24 M191.15,665.22 V657.76 M189.35,657.76 H192.95 M197.86,658.26 V647.83 M196.06,647.83 H199.66 M204.58,656.52 V646.58 M202.78,646.58 H206.38 M211.29,654.04 V642.86 M209.49,642.86 H213.09 M218.00,651.55 V640.37 M216.20,640.37 H219.80 M224.71,650.81 V639.87 M222.91,639.87 H226.51 M231.43,649.81 V639.13 M229.62,639.13 H233.23 M238.14,649.81 V639.13 M236.34,639.13 H239.94 M244.85,650.31 V640.37 M243.05,640.37 H246.65 M251.56,650.81 V640.87 M249.76,640.87 H253.36" stroke="#333" stroke-width="0.9" fill="none"/>
<path d="M164.30,681.37 C165.42,680.96 168.78,679.84 171.01,678.89 C173.25,677.93 175.49,677.11 177.73,675.66 C179.96,674.21 182.20,671.93 184.44,670.19 C186.68,668.45 188.91,667.21 191.15,665.22 C193.39,663.23 195.62,659.71 197.86,658.26 C200.10,656.81 202.34,657.23 204.58,656.52 C206.81,655.82 209.05,654.87 211.29,654.04 C213.53,653.21 215.76,652.09 218.00,651.55 C220.24,651.01 222.47,651.10 224.71,650.81 C226.95,650.52 229.19,649.98 231.43,649.81 C233.66,649.65 235.90,649.73 238.14,649.81 C240.38,649.90 242.61,650.14 244.85,650.31 C247.09,650.48 250.44,650.72 251.56,650.81" stroke="#7e4a84" stroke-width="1.3" fill="none"/>
<circle cx="164.30" cy="681.37" r="1.15" fill="#fff" stroke="#7e4a84" stroke-width="0.6"/>
<circle cx="171.01" cy="678.89" r="1.15" fill="#fff" stroke="#7e4a84" stroke-width="0.6"/>
<circle cx="177.73" cy="675.66" r="1.15" fill="#fff" stroke="#7e4a84" stroke-width="0.6"/>
<circle cx="184.44" cy="670.19" r="1.15" fill="#fff" stroke="#7e4a84" stroke-width="0.6"/>
<circle cx="191.15" cy="665.22" r="1.15" fill="#fff" stroke="#7e4a84" stroke-width="0.6"/>
<circle cx="197.86" cy="658.26" r="1.15" fill="#fff" stroke="#7e4a84" stroke-width="0.6"/>
<circle cx="204.58" cy="656.52" r="1.15" fill="#fff" stroke="#7e4a84" stroke-width="0.6"/>
<circle cx="211.29" cy="654.04" r="1.15" fill="#fff" stroke="#7e4a84" stroke-width="0.6"/>
<circle cx="218.00" cy="651.55" r="1.15" fill="#fff" stroke="#7e4a84" stroke-width="0.6"/>
<circle cx="224.71" cy="650.81" r="1.15" fill="#fff" stroke="#7e4a84" stroke-width="0.6"/>
<circle cx="231.43" cy="649.81" r="1.15" fill="#fff" stroke="#7e4a84" stroke-width="0.6"/>
<circle cx="238.14" cy="649.81" r="1.15" fill="#fff" stroke="#7e4a84" stroke-width="0.6"/>
<circle cx="244.85" cy="650.31" r="1.15" fill="#fff" stroke="#7e4a84" stroke-width="0.6"/>
<circle cx="251.56" cy="650.81" r="1.15" fill="#fff" stroke="#7e4a84" stroke-width="0.6"/>
<line x1="182.5" y1="632" x2="195.5" y2="632" stroke="#7e4a84" stroke-width="1.1"/>
<circle cx="189.0" cy="632" r="1.15" fill="#fff" stroke="#7e4a84" stroke-width="0.6"/>
<text x="197.5" y="634.3" font-size="6.3" fill="#333" class="c">10000 - 50000 (51)</text>
<text x="166.70" y="633.40" font-size="5.4" fill="#444">(iii)</text>
<line x1="287.2" y1="625.46" x2="287.2" y2="698.02" stroke="#333" stroke-width="1.1"/>
<line x1="286.7" y1="697.52" x2="380.28" y2="697.52" stroke="#333" stroke-width="1.1"/>
<line x1="284.2" y1="685.10" x2="287.2" y2="685.10" stroke="#333" stroke-width="0.9"/>
<text x="280.6" y="687.4" font-size="7.9" fill="#333" text-anchor="end" class="c">1</text>
<line x1="284.2" y1="660.25" x2="287.2" y2="660.25" stroke="#333" stroke-width="0.9"/>
<text x="280.6" y="662.55" font-size="7.9" fill="#333" text-anchor="end" class="c">2</text>
<line x1="284.2" y1="635.40" x2="287.2" y2="635.40" stroke="#333" stroke-width="0.9"/>
<text x="280.6" y="637.7" font-size="7.9" fill="#333" text-anchor="end" class="c">3</text>
<line x1="287.20" y1="697.52" x2="287.20" y2="700.12" stroke="#333" stroke-width="0.9"/>
<text x="287.2" y="711.02" font-size="8.4" fill="#333" text-anchor="middle" class="c">0</text>
<line x1="305.10" y1="697.52" x2="305.10" y2="700.12" stroke="#333" stroke-width="0.9"/>
<text x="305.1" y="711.02" font-size="8.4" fill="#333" text-anchor="middle" class="c">20</text>
<line x1="323.00" y1="697.52" x2="323.00" y2="700.12" stroke="#333" stroke-width="0.9"/>
<text x="323.0" y="711.02" font-size="8.4" fill="#333" text-anchor="middle" class="c">40</text>
<line x1="340.90" y1="697.52" x2="340.90" y2="700.12" stroke="#333" stroke-width="0.9"/>
<text x="340.9" y="711.02" font-size="8.4" fill="#333" text-anchor="middle" class="c">60</text>
<line x1="358.80" y1="697.52" x2="358.80" y2="700.12" stroke="#333" stroke-width="0.9"/>
<text x="358.8" y="711.02" font-size="8.4" fill="#333" text-anchor="middle" class="c">80</text>
<line x1="376.70" y1="697.52" x2="376.70" y2="700.12" stroke="#333" stroke-width="0.9"/>
<text x="376.7" y="711.02" font-size="8.4" fill="#333" text-anchor="middle" class="c">100</text>
<text transform="translate(271.0,660.25) rotate(-90)" font-size="8.4" fill="#333" text-anchor="middle" class="c">AU</text>
<text x="332.75" y="723.23" font-size="9" fill="#333" text-anchor="middle" textLength="87.6" lengthAdjust="spacingAndGlyphs" class="c">Distance from lesions (<tspan font-style="italic">μ</tspan>m)</text>
<line x1="288.2" y1="685.10" x2="376.70" y2="685.10" stroke="#111" stroke-width="1" stroke-dasharray="2.2,1.7"/>
<path d="M287.20,669.69 V655.28 M285.40,655.28 H289.00 M293.91,666.46 V650.81 M292.11,650.81 H295.71 M300.62,662.24 V645.84 M298.82,645.84 H302.43 M307.34,657.27 V639.87 M305.54,639.87 H309.14 M314.05,654.78 V635.90 M312.25,635.90 H315.85 M320.76,654.04 V635.40 M318.96,635.40 H322.56 M327.47,654.78 V634.90 M325.67,634.90 H329.27 M334.19,656.52 V637.39 M332.39,637.39 H335.99 M340.90,658.26 V637.88 M339.10,637.88 H342.70 M347.61,661.49 V640.87 M345.81,640.87 H349.41 M354.32,665.22 V644.84 M352.52,644.84 H356.12 M361.04,668.20 V649.07 M359.24,649.07 H362.84 M367.75,670.19 V651.55 M365.95,651.55 H369.55 M374.46,672.18 V653.29 M372.66,653.29 H376.26" stroke="#333" stroke-width="0.9" fill="none"/>
<path d="M287.20,669.69 C288.32,669.15 291.67,667.70 293.91,666.46 C296.15,665.22 298.39,663.77 300.62,662.24 C302.86,660.71 305.10,658.51 307.34,657.27 C309.57,656.03 311.81,655.32 314.05,654.78 C316.29,654.24 318.52,654.04 320.76,654.04 C323.00,654.04 325.24,654.37 327.47,654.78 C329.71,655.20 331.95,655.94 334.19,656.52 C336.43,657.10 338.66,657.43 340.90,658.26 C343.14,659.09 345.38,660.33 347.61,661.49 C349.85,662.65 352.09,664.10 354.32,665.22 C356.56,666.34 358.80,667.37 361.04,668.20 C363.28,669.03 365.51,669.53 367.75,670.19 C369.99,670.85 373.34,671.85 374.46,672.18" stroke="#f0a02a" stroke-width="1.3" fill="none"/>
<circle cx="287.20" cy="669.69" r="1.1" fill="#f0a02a"/>
<circle cx="293.91" cy="666.46" r="1.1" fill="#f0a02a"/>
<circle cx="300.62" cy="662.24" r="1.1" fill="#f0a02a"/>
<circle cx="307.34" cy="657.27" r="1.1" fill="#f0a02a"/>
<circle cx="314.05" cy="654.78" r="1.1" fill="#f0a02a"/>
<circle cx="320.76" cy="654.04" r="1.1" fill="#f0a02a"/>
<circle cx="327.47" cy="654.78" r="1.1" fill="#f0a02a"/>
<circle cx="334.19" cy="656.52" r="1.1" fill="#f0a02a"/>
<circle cx="340.90" cy="658.26" r="1.1" fill="#f0a02a"/>
<circle cx="347.61" cy="661.49" r="1.1" fill="#f0a02a"/>
<circle cx="354.32" cy="665.22" r="1.1" fill="#f0a02a"/>
<circle cx="361.04" cy="668.20" r="1.1" fill="#f0a02a"/>
<circle cx="367.75" cy="670.19" r="1.1" fill="#f0a02a"/>
<circle cx="374.46" cy="672.18" r="1.1" fill="#f0a02a"/>
<line x1="329.5" y1="632" x2="340" y2="632" stroke="#f0a02a" stroke-width="1.1"/>
<circle cx="334.75" cy="632" r="1.1" fill="#f0a02a"/>
<text x="342.5" y="634.3" font-size="6.3" fill="#333" class="c">&gt; 50000 (6)</text>
<text x="289.60" y="633.40" font-size="5.4" fill="#444">(iv)</text>
<line x1="425.3" y1="512.3" x2="425.3" y2="586.4" stroke="#333" stroke-width="1.1"/>
<line x1="424.8" y1="585.9" x2="519" y2="585.9" stroke="#333" stroke-width="1.1"/>
<line x1="422.7" y1="585.90" x2="425.3" y2="585.90" stroke="#333" stroke-width="0.9"/>
<text x="421.0" y="588.9" font-size="8.4" fill="#333" text-anchor="end" class="c">0</text>
<line x1="425.30" y1="585.9" x2="425.30" y2="588.5" stroke="#333" stroke-width="0.9"/>
<text x="425.3" y="599.1" font-size="8.4" fill="#333" text-anchor="middle" class="c">0</text>
<line x1="422.7" y1="562.00" x2="425.3" y2="562.00" stroke="#333" stroke-width="0.9"/>
<text x="421.0" y="565.0" font-size="8.4" fill="#333" text-anchor="end" class="c">20</text>
<line x1="455.60" y1="585.9" x2="455.60" y2="588.5" stroke="#333" stroke-width="0.9"/>
<text x="455.6" y="599.1" font-size="8.4" fill="#333" text-anchor="middle" class="c">20</text>
<line x1="422.7" y1="538.10" x2="425.3" y2="538.10" stroke="#333" stroke-width="0.9"/>
<text x="421.0" y="541.1" font-size="8.4" fill="#333" text-anchor="end" class="c">40</text>
<line x1="485.90" y1="585.9" x2="485.90" y2="588.5" stroke="#333" stroke-width="0.9"/>
<text x="485.9" y="599.1" font-size="8.4" fill="#333" text-anchor="middle" class="c">40</text>
<line x1="422.7" y1="514.20" x2="425.3" y2="514.20" stroke="#333" stroke-width="0.9"/>
<text x="421.0" y="517.2" font-size="8.4" fill="#333" text-anchor="end" class="c">60</text>
<line x1="516.20" y1="585.9" x2="516.20" y2="588.5" stroke="#333" stroke-width="0.9"/>
<text x="516.2" y="599.1" font-size="8.4" fill="#333" text-anchor="middle" class="c">60</text>
<text x="470.6" y="508" font-size="7.8" fill="#333" text-anchor="middle" textLength="94.0" lengthAdjust="spacingAndGlyphs" class="c">Hypoxic area vs Lesion area</text>
<text transform="translate(405.6,549.5) rotate(-90)" font-size="8.8" fill="#333" text-anchor="middle" textLength="56.4" lengthAdjust="spacingAndGlyphs" class="c">Hypoxic area (%)</text>
<text x="470.7" y="612" font-size="8.8" fill="#333" text-anchor="middle" textLength="49.8" lengthAdjust="spacingAndGlyphs" class="c">Lesion area (%)</text>
<text x="431.7" y="521" font-size="6.4" fill="#333" font-style="italic" class="c">r = 0.5339</text>
<text x="431.7" y="529.6" font-size="6.4" fill="#333" font-style="italic" class="c">P = 0.0007</text>
<circle cx="483.13" cy="522.83" r="1.65" fill="#b0102a"/>
<circle cx="446.53" cy="539.19" r="1.65" fill="#b0102a"/>
<circle cx="443.41" cy="542.82" r="1.65" fill="#b0102a"/>
<circle cx="444.19" cy="546.98" r="1.65" fill="#b0102a"/>
<circle cx="467.29" cy="541.53" r="1.65" fill="#b0102a"/>
<circle cx="484.43" cy="544.38" r="1.65" fill="#b0102a"/>
<circle cx="484.17" cy="559.18" r="1.65" fill="#b0102a"/>
<circle cx="482.61" cy="563.59" r="1.65" fill="#b0102a"/>
<circle cx="458.47" cy="557.36" r="1.65" fill="#b0102a"/>
<circle cx="459.77" cy="565.15" r="1.65" fill="#b0102a"/>
<circle cx="461.58" cy="570.86" r="1.65" fill="#b0102a"/>
<circle cx="464.18" cy="572.16" r="1.65" fill="#b0102a"/>
<circle cx="503.64" cy="570.86" r="1.65" fill="#b0102a"/>
<circle cx="428.09" cy="563.59" r="1.65" fill="#b0102a"/>
<circle cx="443.41" cy="563.07" r="1.65" fill="#b0102a"/>
<circle cx="437.70" cy="563.85" r="1.65" fill="#b0102a"/>
<circle cx="440.30" cy="567.49" r="1.65" fill="#b0102a"/>
<circle cx="440.30" cy="570.86" r="1.65" fill="#b0102a"/>
<circle cx="443.41" cy="571.38" r="1.65" fill="#b0102a"/>
<circle cx="447.31" cy="571.64" r="1.65" fill="#b0102a"/>
<circle cx="446.01" cy="574.76" r="1.65" fill="#b0102a"/>
<circle cx="440.82" cy="575.53" r="1.65" fill="#b0102a"/>
<circle cx="435.62" cy="573.46" r="1.65" fill="#b0102a"/>
<circle cx="453.02" cy="578.65" r="1.65" fill="#b0102a"/>
<circle cx="438.22" cy="579.43" r="1.65" fill="#b0102a"/>
<circle cx="436.92" cy="581.25" r="1.65" fill="#b0102a"/>
<circle cx="433.03" cy="578.13" r="1.65" fill="#b0102a"/>
<circle cx="429.65" cy="579.95" r="1.65" fill="#b0102a"/>
<circle cx="431.73" cy="583.06" r="1.65" fill="#b0102a"/>
<circle cx="439.00" cy="583.06" r="1.65" fill="#b0102a"/>
<circle cx="425.24" cy="575.28" r="1.65" fill="#b0102a"/>
<circle cx="426.02" cy="583.84" r="1.65" fill="#b0102a"/>
<circle cx="427.06" cy="584.62" r="1.65" fill="#b0102a"/>
<circle cx="432.25" cy="585.92" r="1.65" fill="#b0102a"/>
<circle cx="472.49" cy="579.95" r="1.65" fill="#b0102a"/>
<circle cx="480.53" cy="579.17" r="1.65" fill="#b0102a"/>
<circle cx="425.24" cy="585.14" r="1.65" fill="#b0102a"/>
</svg></body></html>
